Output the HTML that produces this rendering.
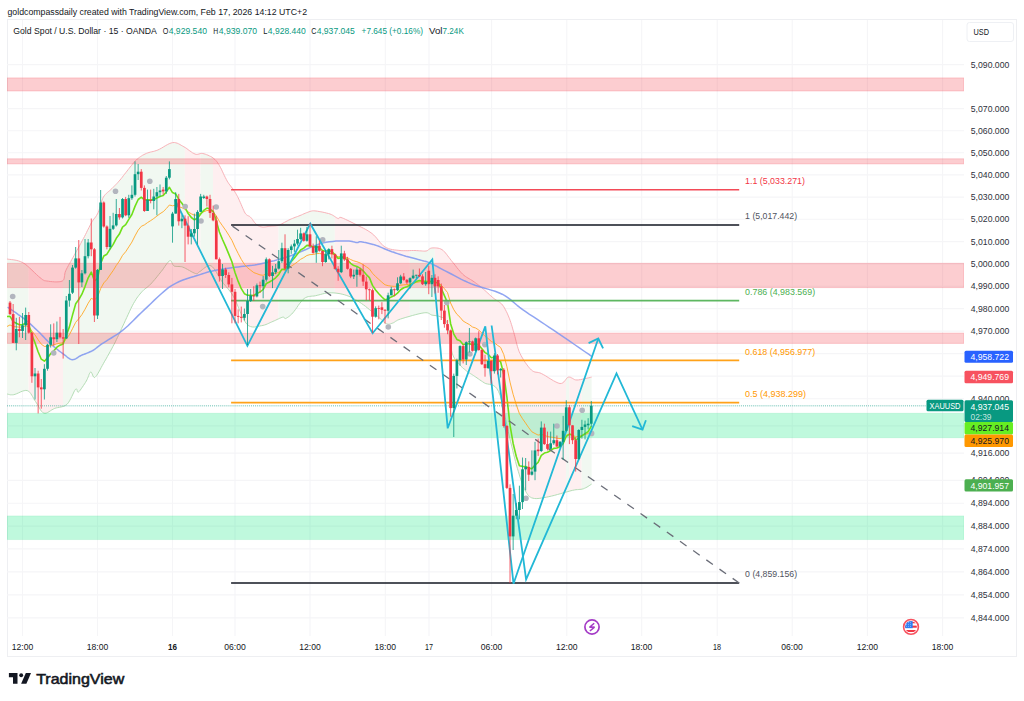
<!DOCTYPE html>
<html><head><meta charset="utf-8"><style>
html,body{margin:0;padding:0;background:#fff;width:1024px;height:701px;overflow:hidden}
svg{display:block}
</style></head><body>
<svg width="1024" height="701" viewBox="0 0 1024 701" font-family="Liberation Sans, sans-serif">
<rect width="1024" height="701" fill="#fff"/>
<text x="7.5" y="14.7" font-size="9.6" fill="#131722" text-anchor="start" font-weight="normal" textLength="299.5" lengthAdjust="spacingAndGlyphs">goldcompassdaily created with TradingView.com, Feb 17, 2026 14:12 UTC+2</text>
<rect x="7.5" y="19.5" width="1009" height="637" fill="#fff" stroke="#EEEFF2" stroke-width="1"/>
<svg x="7" y="20" width="957" height="616" viewBox="7 20 957 616" overflow="hidden">
<line x1="7" y1="64.6" x2="964" y2="64.6" stroke="#F5F5F7" stroke-width="1.1"/>
<line x1="7" y1="108.6" x2="964" y2="108.6" stroke="#F5F5F7" stroke-width="1.1"/>
<line x1="7" y1="130.7" x2="964" y2="130.7" stroke="#F5F5F7" stroke-width="1.1"/>
<line x1="7" y1="152.7" x2="964" y2="152.7" stroke="#F5F5F7" stroke-width="1.1"/>
<line x1="7" y1="174.9" x2="964" y2="174.9" stroke="#F5F5F7" stroke-width="1.1"/>
<line x1="7" y1="197.1" x2="964" y2="197.1" stroke="#F5F5F7" stroke-width="1.1"/>
<line x1="7" y1="219.3" x2="964" y2="219.3" stroke="#F5F5F7" stroke-width="1.1"/>
<line x1="7" y1="241.6" x2="964" y2="241.6" stroke="#F5F5F7" stroke-width="1.1"/>
<line x1="7" y1="263.9" x2="964" y2="263.9" stroke="#F5F5F7" stroke-width="1.1"/>
<line x1="7" y1="286.2" x2="964" y2="286.2" stroke="#F5F5F7" stroke-width="1.1"/>
<line x1="7" y1="308.6" x2="964" y2="308.6" stroke="#F5F5F7" stroke-width="1.1"/>
<line x1="7" y1="331.1" x2="964" y2="331.1" stroke="#F5F5F7" stroke-width="1.1"/>
<line x1="7" y1="353.6" x2="964" y2="353.6" stroke="#F5F5F7" stroke-width="1.1"/>
<line x1="7" y1="376.1" x2="964" y2="376.1" stroke="#F5F5F7" stroke-width="1.1"/>
<line x1="7" y1="398.7" x2="964" y2="398.7" stroke="#F5F5F7" stroke-width="1.1"/>
<line x1="7" y1="425.9" x2="964" y2="425.9" stroke="#F5F5F7" stroke-width="1.1"/>
<line x1="7" y1="453.1" x2="964" y2="453.1" stroke="#F5F5F7" stroke-width="1.1"/>
<line x1="7" y1="480.4" x2="964" y2="480.4" stroke="#F5F5F7" stroke-width="1.1"/>
<line x1="7" y1="503.2" x2="964" y2="503.2" stroke="#F5F5F7" stroke-width="1.1"/>
<line x1="7" y1="526.1" x2="964" y2="526.1" stroke="#F5F5F7" stroke-width="1.1"/>
<line x1="7" y1="548.9" x2="964" y2="548.9" stroke="#F5F5F7" stroke-width="1.1"/>
<line x1="7" y1="571.9" x2="964" y2="571.9" stroke="#F5F5F7" stroke-width="1.1"/>
<line x1="7" y1="594.9" x2="964" y2="594.9" stroke="#F5F5F7" stroke-width="1.1"/>
<line x1="7" y1="617.9" x2="964" y2="617.9" stroke="#F5F5F7" stroke-width="1.1"/>
<line x1="22.5" y1="20" x2="22.5" y2="636" stroke="#F5F5F7" stroke-width="1.1"/>
<line x1="97.5" y1="20" x2="97.5" y2="636" stroke="#F5F5F7" stroke-width="1.1"/>
<line x1="172.5" y1="20" x2="172.5" y2="636" stroke="#F5F5F7" stroke-width="1.1"/>
<line x1="235" y1="20" x2="235" y2="636" stroke="#F5F5F7" stroke-width="1.1"/>
<line x1="310" y1="20" x2="310" y2="636" stroke="#F5F5F7" stroke-width="1.1"/>
<line x1="385.3" y1="20" x2="385.3" y2="636" stroke="#F5F5F7" stroke-width="1.1"/>
<line x1="429" y1="20" x2="429" y2="636" stroke="#F5F5F7" stroke-width="1.1"/>
<line x1="491.6" y1="20" x2="491.6" y2="636" stroke="#F5F5F7" stroke-width="1.1"/>
<line x1="566.8" y1="20" x2="566.8" y2="636" stroke="#F5F5F7" stroke-width="1.1"/>
<line x1="641.7" y1="20" x2="641.7" y2="636" stroke="#F5F5F7" stroke-width="1.1"/>
<line x1="717.2" y1="20" x2="717.2" y2="636" stroke="#F5F5F7" stroke-width="1.1"/>
<line x1="792.2" y1="20" x2="792.2" y2="636" stroke="#F5F5F7" stroke-width="1.1"/>
<line x1="867.4" y1="20" x2="867.4" y2="636" stroke="#F5F5F7" stroke-width="1.1"/>
<line x1="942.6" y1="20" x2="942.6" y2="636" stroke="#F5F5F7" stroke-width="1.1"/>
<polygon points="7.0,259.0 8.2,259.2 9.8,259.4 11.7,259.6 13.9,259.9 16.2,260.3 18.5,260.9 20.7,261.7 22.9,262.7 25.1,264.1 27.3,265.9 28.6,267.0 28.6,391.3 28.6,391.2 27.3,390.6 25.8,390.4 24.1,390.7 22.3,391.2 20.4,392.0 18.5,392.9 16.7,393.7 15.1,394.3 13.7,394.7 12.5,394.8 11.4,394.8 10.4,394.8 9.5,394.6 8.7,394.4 8.0,394.2 7.5,394.1 7.0,394.0" fill="#F1F8F1"/>
<polygon points="28.6,267.0 29.7,268.0 32.0,270.2 34.3,272.4 36.4,274.4 38.3,276.2 40.0,277.6 41.3,278.6 42.2,279.3 42.9,279.9 43.5,280.2 44.1,280.5 44.7,280.7 45.6,280.8 46.8,281.0 48.4,281.2 50.3,281.5 52.5,281.7 54.8,281.9 57.0,281.9 59.1,281.8 60.9,281.5 62.3,281.0 63.0,280.5 63.0,406.5 62.6,406.6 61.0,407.0 59.4,407.3 57.8,407.6 56.2,407.9 54.7,408.4 53.3,409.1 51.8,409.9 50.4,410.8 49.0,411.7 47.6,412.5 46.3,413.1 45.0,413.3 43.8,413.1 42.6,412.4 41.5,411.3 40.5,409.9 39.5,408.3 38.5,406.5 37.5,404.7 36.5,403.0 35.5,401.5 34.5,400.0 33.6,398.4 32.7,396.7 31.7,395.1 30.8,393.6 29.7,392.3 28.6,391.3" fill="#FEEFF0"/>
<polygon points="63.0,280.5 63.3,280.2 63.9,279.3 64.2,278.2 64.4,276.9 64.6,275.5 64.8,274.0 65.1,272.4 65.7,270.8 66.5,269.1 67.4,267.4 68.4,265.5 69.5,263.6 70.7,261.6 71.8,259.5 73.0,257.4 74.2,255.3 75.4,253.1 76.7,250.7 78.1,248.3 79.5,245.8 80.8,243.3 82.1,240.9 83.4,238.6 84.5,236.5 85.5,234.5 86.5,232.6 87.3,230.8 88.2,229.1 89.0,227.5 89.8,225.9 90.6,224.3 91.4,222.8 92.3,221.4 93.1,220.1 94.0,218.9 94.9,217.8 95.8,216.6 96.6,215.4 97.4,214.0 98.2,212.5 98.9,210.8 99.5,208.8 100.1,206.8 100.7,204.7 101.3,202.6 101.9,200.6 102.6,198.7 103.4,197.1 104.3,195.7 105.3,194.5 106.4,193.4 107.5,192.4 108.6,191.5 109.7,190.6 110.8,189.6 111.9,188.6 112.9,187.6 113.9,186.5 114.9,185.5 115.9,184.5 116.9,183.5 117.9,182.4 118.9,181.2 120.0,180.0 121.1,178.7 122.3,177.2 123.4,175.7 124.6,174.2 125.8,172.6 127.0,171.1 128.1,169.7 129.2,168.3 130.2,167.0 131.3,165.7 132.2,164.5 133.2,163.3 134.2,162.2 135.1,161.1 136.2,160.1 137.2,159.1 138.3,158.2 139.4,157.4 140.5,156.6 141.6,155.9 142.7,155.2 143.9,154.6 145.1,154.0 146.4,153.4 147.7,152.9 149.0,152.5 150.4,152.1 151.7,151.8 153.2,151.5 154.6,151.1 156.2,150.6 157.8,150.0 159.5,149.2 161.4,148.2 163.3,147.0 165.3,145.8 167.3,144.7 169.2,143.7 171.1,143.0 172.8,142.6 174.4,142.5 175.8,142.8 177.2,143.2 178.6,143.8 179.9,144.5 181.2,145.3 182.5,146.0 183.9,146.8 184.8,147.3 184.8,268.1 184.2,267.7 182.7,267.1 181.4,266.7 180.2,266.6 179.0,266.5 177.9,266.5 176.8,266.5 175.8,266.4 174.9,266.3 174.1,266.0 173.4,265.4 172.8,264.6 172.4,263.6 171.9,262.6 171.5,261.7 171.1,261.0 170.5,260.6 169.8,260.7 169.0,261.3 168.0,262.2 167.0,263.4 166.0,264.9 164.8,266.5 163.7,268.2 162.5,269.9 161.3,271.4 160.1,272.9 158.7,274.6 157.4,276.3 156.0,278.0 154.6,279.7 153.2,281.3 151.9,282.8 150.6,284.2 149.4,285.4 148.3,286.3 147.2,287.2 146.2,288.0 145.1,288.8 144.1,289.6 143.1,290.6 142.0,291.7 140.9,292.9 139.9,294.1 138.9,295.3 137.9,296.7 136.8,298.1 135.8,299.7 134.7,301.5 133.5,303.5 132.3,305.8 130.9,308.5 129.6,311.3 128.2,314.4 126.8,317.4 125.4,320.4 124.1,323.3 122.8,326.0 121.6,328.5 120.6,330.8 119.5,333.1 118.5,335.3 117.5,337.4 116.4,339.6 115.4,341.8 114.2,344.1 112.9,346.5 111.6,349.0 110.2,351.5 108.8,354.0 107.4,356.5 106.1,358.9 104.7,361.2 103.5,363.4 102.3,365.5 101.1,367.7 100.0,369.9 98.8,371.9 97.8,373.7 96.8,375.3 95.8,376.5 95.0,377.3 94.3,377.5 93.6,377.0 93.1,376.1 92.6,375.0 92.1,373.8 91.7,372.8 91.2,372.1 90.7,372.0 90.2,372.4 89.7,373.2 89.2,374.2 88.7,375.5 88.2,376.9 87.6,378.3 87.0,379.7 86.3,381.0 85.5,382.4 84.5,383.9 83.4,385.6 82.3,387.2 81.2,388.8 80.2,390.2 79.3,391.3 78.5,392.0 77.9,392.2 77.6,391.9 77.3,391.2 77.1,390.3 76.9,389.5 76.6,389.0 76.2,388.8 75.6,389.2 74.8,390.3 73.9,392.0 73.0,394.0 71.9,396.3 70.7,398.7 69.5,400.9 68.3,402.8 67.0,404.3 65.6,405.3 64.2,406.1 63.0,406.5" fill="#F1F8F1"/>
<polygon points="184.8,147.3 185.3,147.6 186.8,148.6 188.2,149.7 189.7,150.8 191.2,151.8 192.5,152.8 193.9,153.5 195.1,154.1 196.2,154.4 197.2,154.4 198.1,154.2 199.0,154.0 199.9,153.7 200.5,153.6 200.5,271.1 200.0,271.4 199.2,271.9 198.6,272.4 198.2,272.8 197.9,273.2 197.5,273.5 197.1,273.7 196.4,273.7 195.5,273.5 194.3,273.1 192.8,272.4 191.1,271.5 189.4,270.5 187.6,269.5 185.8,268.5 184.8,268.1" fill="#FEEFF0"/>
<polygon points="200.5,153.6 200.8,153.5 201.7,153.4 202.8,153.5 204.0,153.8 205.3,154.2 206.6,154.7 208.0,155.2 209.4,155.9 210.7,156.5 212.0,157.2 213.0,157.9 213.0,267.4 212.4,266.8 211.0,265.8 209.6,265.5 208.1,265.8 206.6,266.5 205.1,267.5 203.6,268.6 202.3,269.7 201.1,270.7 200.5,271.1" fill="#F1F8F1"/>
<polygon points="213.0,157.9 213.1,158.0 214.1,158.8 214.9,159.5 215.7,160.3 216.5,161.2 217.2,162.1 217.9,163.2 218.7,164.3 219.5,165.7 220.4,167.3 221.4,169.2 222.3,171.2 223.3,173.3 224.3,175.5 225.3,177.5 226.3,179.4 227.2,181.1 228.1,182.5 228.9,183.8 229.8,184.9 230.6,186.0 231.4,187.0 232.2,188.0 233.0,189.0 233.7,190.1 234.4,191.2 235.0,192.2 235.7,193.3 236.3,194.3 236.9,195.4 237.5,196.5 238.1,197.7 238.8,199.1 239.5,200.7 240.3,202.5 241.2,204.5 242.0,206.5 242.8,208.4 243.7,210.3 244.4,211.9 245.2,213.2 245.9,214.2 246.6,214.8 247.2,215.3 247.8,215.6 248.5,215.9 249.1,216.2 249.7,216.5 250.4,217.1 251.1,217.8 251.8,218.7 252.5,219.6 253.2,220.6 253.9,221.6 254.6,222.5 255.3,223.3 256.0,224.0 256.7,224.6 257.4,225.1 258.1,225.6 258.9,226.0 259.6,226.3 260.3,226.6 261.2,226.8 262.0,227.0 262.9,227.1 263.8,227.1 264.8,227.0 265.8,226.9 266.8,226.7 267.9,226.5 268.9,226.3 270.0,226.2 271.1,226.1 272.1,226.0 273.2,226.0 274.3,225.9 275.4,225.8 276.6,225.6 277.8,225.4 278.6,225.1 278.6,318.8 278.4,318.9 277.0,319.5 275.7,320.2 274.3,320.8 272.9,321.4 271.6,322.0 270.2,322.6 268.8,323.3 267.4,323.9 266.0,324.5 264.5,325.0 263.0,325.4 261.4,325.7 259.7,326.0 258.0,326.4 256.2,326.8 254.3,327.0 252.5,327.0 250.6,326.6 248.8,325.8 247.0,324.3 245.2,322.0 243.5,318.9 241.7,315.2 240.0,311.2 238.3,307.1 236.6,303.1 235.0,299.4 233.4,296.4 231.9,293.9 230.4,291.8 228.9,289.9 227.5,288.2 226.1,286.6 224.8,285.1 223.4,283.4 222.0,281.6 220.6,279.5 219.2,277.2 217.8,274.8 216.5,272.4 215.1,270.2 213.7,268.3 213.0,267.4" fill="#FEEFF0"/>
<polygon points="278.6,225.1 279.0,225.0 280.3,224.5 281.6,223.9 283.0,223.2 284.4,222.4 285.9,221.6 287.3,220.9 288.7,220.1 290.0,219.5 291.3,218.9 292.6,218.4 293.8,217.9 295.1,217.4 296.3,216.9 297.5,216.5 298.8,216.0 300.0,215.5 301.3,215.0 302.6,214.4 303.9,213.8 305.2,213.3 306.5,212.7 307.8,212.3 308.9,211.8 310.0,211.5 310.9,211.2 311.6,211.0 312.2,210.9 312.8,210.8 313.3,210.8 314.0,210.8 314.9,210.9 316.0,211.0 317.4,211.2 319.1,211.5 320.9,211.8 322.9,212.2 324.8,212.6 326.7,213.1 328.5,213.5 330.0,214.0 331.3,214.5 332.5,215.1 333.7,215.8 334.7,216.5 334.8,216.6 334.8,293.0 333.9,292.9 331.9,292.8 330.0,292.8 328.1,292.9 326.2,293.1 324.3,293.5 322.5,293.9 320.7,294.4 318.9,294.9 317.2,295.3 315.6,295.7 314.0,296.0 312.5,296.1 311.1,296.2 309.7,296.4 308.3,296.6 307.0,297.0 305.6,297.6 304.2,298.5 302.7,299.8 301.3,301.5 299.7,303.4 298.2,305.5 296.8,307.6 295.4,309.6 294.0,311.4 292.8,312.9 291.7,314.1 290.6,315.1 289.6,316.0 288.7,316.7 287.8,317.3 287.0,317.8 286.3,318.2 285.6,318.5 285.1,318.6 284.8,318.5 284.5,318.2 284.4,317.9 284.2,317.5 283.9,317.2 283.5,317.1 282.8,317.1 281.9,317.4 280.9,317.8 279.7,318.3 278.6,318.8" fill="#F1F8F1"/>
<polygon points="334.8,216.6 335.6,217.1 336.5,217.7 337.3,218.2 338.0,218.5 338.5,218.6 338.8,218.5 339.0,218.2 339.1,217.9 339.3,217.6 339.6,217.4 340.1,217.3 341.0,217.5 342.2,217.9 343.7,218.5 345.3,219.3 347.1,220.1 349.0,221.0 351.0,222.0 353.0,223.0 355.0,224.0 357.0,225.0 359.1,226.1 361.3,227.2 363.6,228.3 365.8,229.5 368.0,230.8 370.0,232.1 372.0,233.5 373.8,235.1 375.5,236.8 377.1,238.7 378.6,240.6 380.2,242.5 381.7,244.2 383.3,245.8 385.0,247.0 386.8,247.9 388.6,248.7 390.5,249.2 392.4,249.6 394.3,249.9 396.2,250.1 398.1,250.3 400.0,250.5 401.9,250.7 403.8,250.7 405.8,250.7 407.8,250.7 409.7,250.6 409.8,250.6 409.8,316.2 409.0,316.5 405.8,317.4 402.9,318.3 400.6,319.0 398.9,319.6 397.5,320.2 396.5,320.8 395.6,321.3 394.9,321.8 394.3,322.3 393.6,322.7 392.8,323.0 392.0,323.3 391.2,323.6 390.5,323.9 389.8,324.1 389.0,324.2 388.3,324.2 387.4,324.0 386.5,323.7 385.5,323.2 384.5,322.5 383.5,321.6 382.4,320.6 381.2,319.5 380.0,318.4 378.6,317.2 377.1,315.9 375.4,314.5 373.6,313.0 371.7,311.4 369.6,309.7 367.5,308.0 365.4,306.3 363.4,304.8 361.4,303.4 359.5,302.1 357.6,300.9 355.7,299.8 353.8,298.7 352.0,297.7 350.1,296.8 348.1,296.0 346.2,295.3 344.2,294.7 342.2,294.2 340.1,293.7 338.0,293.4 336.0,293.1 334.8,293.0" fill="#FEEFF0"/>
<polygon points="409.8,250.6 411.5,250.5 413.3,250.5 415.0,250.5 416.6,250.6 418.2,250.7 419.6,250.8 421.1,250.9 422.4,251.0 423.7,251.1 424.9,251.1 426.0,251.0 426.9,250.8 427.7,250.4 428.4,249.9 428.9,249.4 429.5,248.9 430.2,248.5 430.9,248.2 431.8,248.0 432.9,247.9 434.1,247.9 434.8,247.9 434.8,315.5 434.0,315.4 433.0,315.3 432.0,315.1 431.1,314.8 430.4,314.4 429.8,313.9 429.1,313.5 428.3,313.1 427.3,312.8 425.9,312.7 424.2,312.8 421.9,313.2 419.0,313.8 415.8,314.6 412.4,315.5 409.8,316.2" fill="#F1F8F1"/>
<polygon points="434.8,247.9 435.4,247.9 436.7,248.0 438.1,248.2 439.5,248.5 440.8,249.0 442.1,249.7 443.3,250.6 444.4,251.7 445.5,253.0 446.6,254.3 447.7,255.8 448.9,257.4 450.1,258.9 451.3,260.5 452.6,262.1 454.0,263.9 455.5,265.7 456.9,267.6 458.4,269.4 459.9,271.2 461.3,272.8 462.7,274.2 464.0,275.4 465.4,276.4 466.7,277.3 468.0,278.1 469.3,278.8 470.5,279.5 471.8,280.3 473.0,281.1 474.2,281.9 475.3,282.7 476.4,283.5 477.5,284.3 478.6,285.2 479.7,286.0 480.9,287.0 482.1,288.0 483.4,289.1 484.8,290.4 486.3,291.7 487.8,293.1 489.3,294.5 490.8,295.8 492.2,297.1 493.5,298.2 494.8,299.2 496.0,300.0 497.2,300.7 498.3,301.4 499.4,302.2 500.5,303.0 501.6,303.9 502.6,305.1 503.6,306.5 504.5,308.0 505.4,309.7 506.3,311.4 507.2,313.2 508.0,315.1 508.8,317.0 509.5,318.8 510.2,320.6 510.8,322.5 511.4,324.3 512.0,326.2 512.5,328.1 513.1,330.1 513.7,332.2 514.3,334.3 514.9,336.5 515.5,338.9 516.1,341.3 516.7,343.8 517.4,346.3 518.2,348.8 519.0,351.2 520.0,353.5 521.2,355.8 522.5,358.1 523.9,360.5 525.4,362.7 527.0,364.9 528.5,366.9 530.0,368.6 531.4,370.0 532.7,371.0 533.8,371.6 534.9,372.0 536.0,372.2 537.1,372.3 538.3,372.5 539.7,372.8 541.4,373.5 543.4,374.6 545.7,375.9 548.2,377.5 550.8,379.1 553.4,380.7 555.9,382.0 558.1,383.0 560.0,383.5 561.5,383.4 562.8,382.8 563.9,381.9 564.9,380.7 565.8,379.5 566.1,379.1 566.1,492.0 564.0,492.6 560.8,493.6 557.5,494.5 554.3,495.4 551.4,496.1 548.7,496.7 546.3,497.2 544.0,497.6 541.9,498.0 539.9,498.3 538.0,498.5 536.2,498.6 534.5,498.5 533.0,498.2 531.6,497.8 530.5,497.2 529.5,496.6 528.6,495.8 527.8,494.8 527.0,493.6 526.1,492.1 525.2,490.4 524.2,488.4 523.3,486.1 522.3,483.6 521.3,480.9 520.3,478.0 519.4,474.9 518.4,471.7 517.4,468.4 516.4,465.0 515.5,461.5 514.6,457.9 513.6,454.2 512.7,450.2 511.7,446.1 510.6,441.7 509.5,437.0 508.3,431.7 507.0,425.7 505.7,419.3 504.4,412.8 503.0,406.4 501.6,400.5 500.1,395.4 498.5,391.4 496.8,388.5 495.1,386.6 493.2,385.4 491.3,384.7 489.4,384.3 487.6,384.0 485.8,383.6 484.2,382.8 482.7,381.8 481.2,380.8 479.7,379.8 478.4,378.9 477.0,377.9 475.8,377.1 474.6,376.3 473.5,375.5 472.5,374.9 471.6,374.3 470.8,373.9 470.1,373.4 469.4,373.0 468.7,372.6 467.9,372.0 467.1,371.4 466.2,370.7 465.2,369.9 464.3,369.1 463.2,368.3 462.2,367.3 461.2,366.4 460.3,365.3 459.3,364.2 458.4,363.1 457.4,362.1 456.5,361.0 455.5,359.9 454.6,358.6 453.7,357.0 452.9,355.1 452.1,352.8 451.4,349.8 450.7,346.1 450.1,341.9 449.5,337.6 449.0,333.3 448.4,329.2 447.7,325.7 447.0,323.0 446.2,321.1 445.4,319.7 444.6,318.7 443.7,318.1 442.8,317.7 441.9,317.4 440.9,317.1 440.0,316.7 439.0,316.3 438.1,316.0 437.1,315.8 436.1,315.7 435.0,315.5 434.8,315.5" fill="#FEEFF0"/>
<polygon points="566.1,379.1 566.6,378.4 567.5,377.6 568.5,377.1 569.2,377.1 569.2,491.2 567.1,491.8 566.1,492.0" fill="#F1F8F1"/>
<polygon points="569.2,377.1 569.5,377.1 570.5,377.3 571.4,377.8 572.4,378.3 573.4,378.9 574.4,379.5 575.6,379.9 577.0,380.0 578.6,379.9 580.6,379.6 581.7,379.4 581.7,489.2 581.0,489.3 579.9,489.4 578.8,489.5 577.5,489.6 576.0,489.7 574.3,490.0 572.3,490.4 569.9,491.0 569.2,491.2" fill="#FEEFF0"/>
<polygon points="581.7,379.4 582.7,379.2 584.8,378.7 586.9,378.2 588.8,377.8 590.4,377.4 591.6,377.1 591.6,484.1 591.0,484.5 590.2,485.0 589.2,485.7 588.1,486.4 587.0,487.1 585.8,487.7 584.5,488.3 583.3,488.8 582.1,489.1 581.7,489.2" fill="#F1F8F1"/>
<polyline points="7.0,259.0 8.2,259.2 9.8,259.4 11.7,259.6 13.9,259.9 16.2,260.3 18.5,260.9 20.7,261.7 22.9,262.7 25.1,264.1 27.3,265.9 29.7,268.0 32.0,270.2 34.3,272.4 36.4,274.4 38.3,276.2 40.0,277.6 41.3,278.6 42.2,279.3 42.9,279.9 43.5,280.2 44.1,280.5 44.7,280.7 45.6,280.8 46.8,281.0 48.4,281.2 50.3,281.5 52.5,281.7 54.8,281.9 57.0,281.9 59.1,281.8 60.9,281.5 62.3,281.0 63.3,280.2 63.9,279.3 64.2,278.2 64.4,276.9 64.6,275.5 64.8,274.0 65.1,272.4 65.7,270.8 66.5,269.1 67.4,267.4 68.4,265.5 69.5,263.6 70.7,261.6 71.8,259.5 73.0,257.4 74.2,255.3 75.4,253.1 76.7,250.7 78.1,248.3 79.5,245.8 80.8,243.3 82.1,240.9 83.4,238.6 84.5,236.5 85.5,234.5 86.5,232.6 87.3,230.8 88.2,229.1 89.0,227.5 89.8,225.9 90.6,224.3 91.4,222.8 92.3,221.4 93.1,220.1 94.0,218.9 94.9,217.8 95.8,216.6 96.6,215.4 97.4,214.0 98.2,212.5 98.9,210.8 99.5,208.8 100.1,206.8 100.7,204.7 101.3,202.6 101.9,200.6 102.6,198.7 103.4,197.1 104.3,195.7 105.3,194.5 106.4,193.4 107.5,192.4 108.6,191.5 109.7,190.6 110.8,189.6 111.9,188.6 112.9,187.6 113.9,186.5 114.9,185.5 115.9,184.5 116.9,183.5 117.9,182.4 118.9,181.2 120.0,180.0 121.1,178.7 122.3,177.2 123.4,175.7 124.6,174.2 125.8,172.6 127.0,171.1 128.1,169.7 129.2,168.3 130.2,167.0 131.3,165.7 132.2,164.5 133.2,163.3 134.2,162.2 135.1,161.1 136.2,160.1 137.2,159.1 138.3,158.2 139.4,157.4 140.5,156.6 141.6,155.9 142.7,155.2 143.9,154.6 145.1,154.0 146.4,153.4 147.7,152.9 149.0,152.5 150.4,152.1 151.7,151.8 153.2,151.5 154.6,151.1 156.2,150.6 157.8,150.0 159.5,149.2 161.4,148.2 163.3,147.0 165.3,145.8 167.3,144.7 169.2,143.7 171.1,143.0 172.8,142.6 174.4,142.5 175.8,142.8 177.2,143.2 178.6,143.8 179.9,144.5 181.2,145.3 182.5,146.0 183.9,146.8 185.3,147.6 186.8,148.6 188.2,149.7 189.7,150.8 191.2,151.8 192.5,152.8 193.9,153.5 195.1,154.1 196.2,154.4 197.2,154.4 198.1,154.2 199.0,154.0 199.9,153.7 200.8,153.5 201.7,153.4 202.8,153.5 204.0,153.8 205.3,154.2 206.6,154.7 208.0,155.2 209.4,155.9 210.7,156.5 212.0,157.2 213.1,158.0 214.1,158.8 214.9,159.5 215.7,160.3 216.5,161.2 217.2,162.1 217.9,163.2 218.7,164.3 219.5,165.7 220.4,167.3 221.4,169.2 222.3,171.2 223.3,173.3 224.3,175.5 225.3,177.5 226.3,179.4 227.2,181.1 228.1,182.5 228.9,183.8 229.8,184.9 230.6,186.0 231.4,187.0 232.2,188.0 233.0,189.0 233.7,190.1 234.4,191.2 235.0,192.2 235.7,193.3 236.3,194.3 236.9,195.4 237.5,196.5 238.1,197.7 238.8,199.1 239.5,200.7 240.3,202.5 241.2,204.5 242.0,206.5 242.8,208.4 243.7,210.3 244.4,211.9 245.2,213.2 245.9,214.2 246.6,214.8 247.2,215.3 247.8,215.6 248.5,215.9 249.1,216.2 249.7,216.5 250.4,217.1 251.1,217.8 251.8,218.7 252.5,219.6 253.2,220.6 253.9,221.6 254.6,222.5 255.3,223.3 256.0,224.0 256.7,224.6 257.4,225.1 258.1,225.6 258.9,226.0 259.6,226.3 260.3,226.6 261.2,226.8 262.0,227.0 262.9,227.1 263.8,227.1 264.8,227.0 265.8,226.9 266.8,226.7 267.9,226.5 268.9,226.3 270.0,226.2 271.1,226.1 272.1,226.0 273.2,226.0 274.3,225.9 275.4,225.8 276.6,225.6 277.8,225.4 279.0,225.0 280.3,224.5 281.6,223.9 283.0,223.2 284.4,222.4 285.9,221.6 287.3,220.9 288.7,220.1 290.0,219.5 291.3,218.9 292.6,218.4 293.8,217.9 295.1,217.4 296.3,216.9 297.5,216.5 298.8,216.0 300.0,215.5 301.3,215.0 302.6,214.4 303.9,213.8 305.2,213.3 306.5,212.7 307.8,212.3 308.9,211.8 310.0,211.5 310.9,211.2 311.6,211.0 312.2,210.9 312.8,210.8 313.3,210.8 314.0,210.8 314.9,210.9 316.0,211.0 317.4,211.2 319.1,211.5 320.9,211.8 322.9,212.2 324.8,212.6 326.7,213.1 328.5,213.5 330.0,214.0 331.3,214.5 332.5,215.1 333.7,215.8 334.7,216.5 335.6,217.1 336.5,217.7 337.3,218.2 338.0,218.5 338.5,218.6 338.8,218.5 339.0,218.2 339.1,217.9 339.3,217.6 339.6,217.4 340.1,217.3 341.0,217.5 342.2,217.9 343.7,218.5 345.3,219.3 347.1,220.1 349.0,221.0 351.0,222.0 353.0,223.0 355.0,224.0 357.0,225.0 359.1,226.1 361.3,227.2 363.6,228.3 365.8,229.5 368.0,230.8 370.0,232.1 372.0,233.5 373.8,235.1 375.5,236.8 377.1,238.7 378.6,240.6 380.2,242.5 381.7,244.2 383.3,245.8 385.0,247.0 386.8,247.9 388.6,248.7 390.5,249.2 392.4,249.6 394.3,249.9 396.2,250.1 398.1,250.3 400.0,250.5 401.9,250.7 403.8,250.7 405.8,250.7 407.8,250.7 409.7,250.6 411.5,250.5 413.3,250.5 415.0,250.5 416.6,250.6 418.2,250.7 419.6,250.8 421.1,250.9 422.4,251.0 423.7,251.1 424.9,251.1 426.0,251.0 426.9,250.8 427.7,250.4 428.4,249.9 428.9,249.4 429.5,248.9 430.2,248.5 430.9,248.2 431.8,248.0 432.9,247.9 434.1,247.9 435.4,247.9 436.7,248.0 438.1,248.2 439.5,248.5 440.8,249.0 442.1,249.7 443.3,250.6 444.4,251.7 445.5,253.0 446.6,254.3 447.7,255.8 448.9,257.4 450.1,258.9 451.3,260.5 452.6,262.1 454.0,263.9 455.5,265.7 456.9,267.6 458.4,269.4 459.9,271.2 461.3,272.8 462.7,274.2 464.0,275.4 465.4,276.4 466.7,277.3 468.0,278.1 469.3,278.8 470.5,279.5 471.8,280.3 473.0,281.1 474.2,281.9 475.3,282.7 476.4,283.5 477.5,284.3 478.6,285.2 479.7,286.0 480.9,287.0 482.1,288.0 483.4,289.1 484.8,290.4 486.3,291.7 487.8,293.1 489.3,294.5 490.8,295.8 492.2,297.1 493.5,298.2 494.8,299.2 496.0,300.0 497.2,300.7 498.3,301.4 499.4,302.2 500.5,303.0 501.6,303.9 502.6,305.1 503.6,306.5 504.5,308.0 505.4,309.7 506.3,311.4 507.2,313.2 508.0,315.1 508.8,317.0 509.5,318.8 510.2,320.6 510.8,322.5 511.4,324.3 512.0,326.2 512.5,328.1 513.1,330.1 513.7,332.2 514.3,334.3 514.9,336.5 515.5,338.9 516.1,341.3 516.7,343.8 517.4,346.3 518.2,348.8 519.0,351.2 520.0,353.5 521.2,355.8 522.5,358.1 523.9,360.5 525.4,362.7 527.0,364.9 528.5,366.9 530.0,368.6 531.4,370.0 532.7,371.0 533.8,371.6 534.9,372.0 536.0,372.2 537.1,372.3 538.3,372.5 539.7,372.8 541.4,373.5 543.4,374.6 545.7,375.9 548.2,377.5 550.8,379.1 553.4,380.7 555.9,382.0 558.1,383.0 560.0,383.5 561.5,383.4 562.8,382.8 563.9,381.9 564.9,380.7 565.8,379.5 566.6,378.4 567.5,377.6 568.5,377.1 569.5,377.1 570.5,377.3 571.4,377.8 572.4,378.3 573.4,378.9 574.4,379.5 575.6,379.9 577.0,380.0 578.6,379.9 580.6,379.6 582.7,379.2 584.8,378.7 586.9,378.2 588.8,377.8 590.4,377.4 591.6,377.1" fill="none" stroke="#F8B2B8" stroke-width="1"/>
<polyline points="7.0,394.0 7.5,394.1 8.0,394.2 8.7,394.4 9.5,394.6 10.4,394.8 11.4,394.8 12.5,394.8 13.7,394.7 15.1,394.3 16.7,393.7 18.5,392.9 20.4,392.0 22.3,391.2 24.1,390.7 25.8,390.4 27.3,390.6 28.6,391.2 29.7,392.3 30.8,393.6 31.7,395.1 32.7,396.7 33.6,398.4 34.5,400.0 35.5,401.5 36.5,403.0 37.5,404.7 38.5,406.5 39.5,408.3 40.5,409.9 41.5,411.3 42.6,412.4 43.8,413.1 45.0,413.3 46.3,413.1 47.6,412.5 49.0,411.7 50.4,410.8 51.8,409.9 53.3,409.1 54.7,408.4 56.2,407.9 57.8,407.6 59.4,407.3 61.0,407.0 62.6,406.6 64.2,406.1 65.6,405.3 67.0,404.3 68.3,402.8 69.5,400.9 70.7,398.7 71.9,396.3 73.0,394.0 73.9,392.0 74.8,390.3 75.6,389.2 76.2,388.8 76.6,389.0 76.9,389.5 77.1,390.3 77.3,391.2 77.6,391.9 77.9,392.2 78.5,392.0 79.3,391.3 80.2,390.2 81.2,388.8 82.3,387.2 83.4,385.6 84.5,383.9 85.5,382.4 86.3,381.0 87.0,379.7 87.6,378.3 88.2,376.9 88.7,375.5 89.2,374.2 89.7,373.2 90.2,372.4 90.7,372.0 91.2,372.1 91.7,372.8 92.1,373.8 92.6,375.0 93.1,376.1 93.6,377.0 94.3,377.5 95.0,377.3 95.8,376.5 96.8,375.3 97.8,373.7 98.8,371.9 100.0,369.9 101.1,367.7 102.3,365.5 103.5,363.4 104.7,361.2 106.1,358.9 107.4,356.5 108.8,354.0 110.2,351.5 111.6,349.0 112.9,346.5 114.2,344.1 115.4,341.8 116.4,339.6 117.5,337.4 118.5,335.3 119.5,333.1 120.6,330.8 121.6,328.5 122.8,326.0 124.1,323.3 125.4,320.4 126.8,317.4 128.2,314.4 129.6,311.3 130.9,308.5 132.3,305.8 133.5,303.5 134.7,301.5 135.8,299.7 136.8,298.1 137.9,296.7 138.9,295.3 139.9,294.1 140.9,292.9 142.0,291.7 143.1,290.6 144.1,289.6 145.1,288.8 146.2,288.0 147.2,287.2 148.3,286.3 149.4,285.4 150.6,284.2 151.9,282.8 153.2,281.3 154.6,279.7 156.0,278.0 157.4,276.3 158.7,274.6 160.1,272.9 161.3,271.4 162.5,269.9 163.7,268.2 164.8,266.5 166.0,264.9 167.0,263.4 168.0,262.2 169.0,261.3 169.8,260.7 170.5,260.6 171.1,261.0 171.5,261.7 171.9,262.6 172.4,263.6 172.8,264.6 173.4,265.4 174.1,266.0 174.9,266.3 175.8,266.4 176.8,266.5 177.9,266.5 179.0,266.5 180.2,266.6 181.4,266.7 182.7,267.1 184.2,267.7 185.8,268.5 187.6,269.5 189.4,270.5 191.1,271.5 192.8,272.4 194.3,273.1 195.5,273.5 196.4,273.7 197.1,273.7 197.5,273.5 197.9,273.2 198.2,272.8 198.6,272.4 199.2,271.9 200.0,271.4 201.1,270.7 202.3,269.7 203.6,268.6 205.1,267.5 206.6,266.5 208.1,265.8 209.6,265.5 211.0,265.8 212.4,266.8 213.7,268.3 215.1,270.2 216.5,272.4 217.8,274.8 219.2,277.2 220.6,279.5 222.0,281.6 223.4,283.4 224.8,285.1 226.1,286.6 227.5,288.2 228.9,289.9 230.4,291.8 231.9,293.9 233.4,296.4 235.0,299.4 236.6,303.1 238.3,307.1 240.0,311.2 241.7,315.2 243.5,318.9 245.2,322.0 247.0,324.3 248.8,325.8 250.6,326.6 252.5,327.0 254.3,327.0 256.2,326.8 258.0,326.4 259.7,326.0 261.4,325.7 263.0,325.4 264.5,325.0 266.0,324.5 267.4,323.9 268.8,323.3 270.2,322.6 271.6,322.0 272.9,321.4 274.3,320.8 275.7,320.2 277.0,319.5 278.4,318.9 279.7,318.3 280.9,317.8 281.9,317.4 282.8,317.1 283.5,317.1 283.9,317.2 284.2,317.5 284.4,317.9 284.5,318.2 284.8,318.5 285.1,318.6 285.6,318.5 286.3,318.2 287.0,317.8 287.8,317.3 288.7,316.7 289.6,316.0 290.6,315.1 291.7,314.1 292.8,312.9 294.0,311.4 295.4,309.6 296.8,307.6 298.2,305.5 299.7,303.4 301.3,301.5 302.7,299.8 304.2,298.5 305.6,297.6 307.0,297.0 308.3,296.6 309.7,296.4 311.1,296.2 312.5,296.1 314.0,296.0 315.6,295.7 317.2,295.3 318.9,294.9 320.7,294.4 322.5,293.9 324.3,293.5 326.2,293.1 328.1,292.9 330.0,292.8 331.9,292.8 333.9,292.9 336.0,293.1 338.0,293.4 340.1,293.7 342.2,294.2 344.2,294.7 346.2,295.3 348.1,296.0 350.1,296.8 352.0,297.7 353.8,298.7 355.7,299.8 357.6,300.9 359.5,302.1 361.4,303.4 363.4,304.8 365.4,306.3 367.5,308.0 369.6,309.7 371.7,311.4 373.6,313.0 375.4,314.5 377.1,315.9 378.6,317.2 380.0,318.4 381.2,319.5 382.4,320.6 383.5,321.6 384.5,322.5 385.5,323.2 386.5,323.7 387.4,324.0 388.3,324.2 389.0,324.2 389.8,324.1 390.5,323.9 391.2,323.6 392.0,323.3 392.8,323.0 393.6,322.7 394.3,322.3 394.9,321.8 395.6,321.3 396.5,320.8 397.5,320.2 398.9,319.6 400.6,319.0 402.9,318.3 405.8,317.4 409.0,316.5 412.4,315.5 415.8,314.6 419.0,313.8 421.9,313.2 424.2,312.8 425.9,312.7 427.3,312.8 428.3,313.1 429.1,313.5 429.8,313.9 430.4,314.4 431.1,314.8 432.0,315.1 433.0,315.3 434.0,315.4 435.0,315.5 436.1,315.7 437.1,315.8 438.1,316.0 439.0,316.3 440.0,316.7 440.9,317.1 441.9,317.4 442.8,317.7 443.7,318.1 444.6,318.7 445.4,319.7 446.2,321.1 447.0,323.0 447.7,325.7 448.4,329.2 449.0,333.3 449.5,337.6 450.1,341.9 450.7,346.1 451.4,349.8 452.1,352.8 452.9,355.1 453.7,357.0 454.6,358.6 455.5,359.9 456.5,361.0 457.4,362.1 458.4,363.1 459.3,364.2 460.3,365.3 461.2,366.4 462.2,367.3 463.2,368.3 464.3,369.1 465.2,369.9 466.2,370.7 467.1,371.4 467.9,372.0 468.7,372.6 469.4,373.0 470.1,373.4 470.8,373.9 471.6,374.3 472.5,374.9 473.5,375.5 474.6,376.3 475.8,377.1 477.0,377.9 478.4,378.9 479.7,379.8 481.2,380.8 482.7,381.8 484.2,382.8 485.8,383.6 487.6,384.0 489.4,384.3 491.3,384.7 493.2,385.4 495.1,386.6 496.8,388.5 498.5,391.4 500.1,395.4 501.6,400.5 503.0,406.4 504.4,412.8 505.7,419.3 507.0,425.7 508.3,431.7 509.5,437.0 510.6,441.7 511.7,446.1 512.7,450.2 513.6,454.2 514.6,457.9 515.5,461.5 516.4,465.0 517.4,468.4 518.4,471.7 519.4,474.9 520.3,478.0 521.3,480.9 522.3,483.6 523.3,486.1 524.2,488.4 525.2,490.4 526.1,492.1 527.0,493.6 527.8,494.8 528.6,495.8 529.5,496.6 530.5,497.2 531.6,497.8 533.0,498.2 534.5,498.5 536.2,498.6 538.0,498.5 539.9,498.3 541.9,498.0 544.0,497.6 546.3,497.2 548.7,496.7 551.4,496.1 554.3,495.4 557.5,494.5 560.8,493.6 564.0,492.6 567.1,491.8 569.9,491.0 572.3,490.4 574.3,490.0 576.0,489.7 577.5,489.6 578.8,489.5 579.9,489.4 581.0,489.3 582.1,489.1 583.3,488.8 584.5,488.3 585.8,487.7 587.0,487.1 588.1,486.4 589.2,485.7 590.2,485.0 591.0,484.5 591.6,484.1" fill="none" stroke="#B5DDB6" stroke-width="1"/>
<rect x="7" y="77.9" width="957" height="13.1" fill="rgba(242,54,69,0.25)" stroke="rgba(242,54,69,0.2)" stroke-width="1"/>
<rect x="7" y="158.8" width="957" height="5.1" fill="rgba(242,54,69,0.25)" stroke="rgba(242,54,69,0.2)" stroke-width="1"/>
<rect x="7" y="263.3" width="957" height="24.3" fill="rgba(242,54,69,0.25)" stroke="rgba(242,54,69,0.2)" stroke-width="1"/>
<rect x="7" y="333.1" width="957" height="10.3" fill="rgba(242,54,69,0.25)" stroke="rgba(242,54,69,0.2)" stroke-width="1"/>
<rect x="7" y="413.2" width="957" height="24.6" fill="rgba(0,230,118,0.25)" stroke="rgba(0,200,110,0.1)" stroke-width="1"/>
<rect x="7" y="515.9" width="957" height="23.7" fill="rgba(0,230,118,0.25)" stroke="rgba(0,200,110,0.1)" stroke-width="1"/>
<polyline points="7.6,307.1 9.0,308.1 10.9,309.4 13.2,311.0 15.7,312.7 18.3,314.6 20.9,316.4 23.3,318.2 25.4,319.8 27.2,321.3 28.9,322.7 30.5,324.1 32.1,325.6 33.6,327.0 35.0,328.4 36.5,329.8 38.1,331.3 39.7,332.8 41.3,334.5 42.9,336.1 44.5,337.7 46.0,339.4 47.6,341.0 49.2,342.5 50.8,344.0 52.4,345.4 54.1,346.8 55.7,348.2 57.4,349.5 59.0,350.8 60.6,352.0 62.1,353.1 63.5,354.1 64.8,355.1 66.0,356.0 67.1,357.0 68.2,357.8 69.2,358.5 70.3,359.1 71.3,359.5 72.4,359.7 73.5,359.6 74.6,359.3 75.6,358.8 76.7,358.2 77.8,357.5 78.9,356.7 80.1,356.0 81.3,355.4 82.6,354.8 84.1,354.3 85.5,353.7 87.1,353.1 88.6,352.5 90.1,351.8 91.5,351.2 92.8,350.5 93.9,349.8 94.9,349.2 95.7,348.5 96.5,347.9 97.4,347.1 98.4,346.3 99.7,345.3 101.4,344.1 103.5,342.8 105.9,341.3 108.5,339.7 111.3,338.0 114.2,336.2 117.2,334.3 120.0,332.3 122.8,330.2 125.4,328.0 128.0,325.7 130.5,323.2 133.1,320.7 135.7,318.1 138.4,315.4 141.2,312.7 144.2,309.9 147.4,306.9 150.7,303.7 154.1,300.4 157.7,297.0 161.3,293.7 164.9,290.6 168.5,287.7 172.0,285.3 175.6,283.3 179.3,281.5 183.0,280.0 186.7,278.7 190.4,277.5 193.9,276.5 197.1,275.5 200.0,274.6 202.5,273.8 204.6,273.1 206.4,272.5 208.1,272.0 209.7,271.6 211.5,271.2 213.4,270.8 215.8,270.3 218.6,269.8 221.6,269.3 224.9,268.8 228.3,268.3 231.7,267.8 235.1,267.3 238.3,266.9 241.2,266.5 243.8,266.2 246.1,265.9 248.2,265.7 250.3,265.5 252.4,265.3 254.7,265.0 257.2,264.6 260.0,264.0 263.2,263.3 266.7,262.5 270.3,261.6 274.2,260.7 278.1,259.6 282.1,258.5 286.1,257.3 290.0,256.0 294.0,254.5 298.1,252.9 302.3,251.0 306.5,249.2 310.6,247.4 314.7,245.7 318.6,244.2 322.3,243.1 325.9,242.3 329.4,241.7 332.8,241.4 336.0,241.1 339.1,241.0 342.0,241.0 344.7,241.0 347.0,241.0 349.0,241.0 350.7,241.2 352.1,241.4 353.3,241.7 354.3,241.9 355.3,242.2 356.1,242.4 357.0,242.5 357.7,242.5 358.2,242.4 358.5,242.2 358.8,242.0 359.0,241.9 359.4,241.8 360.1,241.7 361.0,241.8 362.3,242.0 363.8,242.3 365.5,242.6 367.3,243.0 369.2,243.4 371.2,243.9 373.1,244.4 375.0,245.0 376.8,245.6 378.7,246.3 380.6,247.1 382.4,247.9 384.3,248.7 386.2,249.5 388.1,250.3 390.0,251.0 391.9,251.7 393.8,252.3 395.6,253.0 397.5,253.6 399.4,254.2 401.2,254.8 403.1,255.4 405.0,256.0 406.9,256.6 408.9,257.1 410.8,257.6 412.8,258.1 414.7,258.6 416.6,259.1 418.4,259.6 420.0,260.0 421.5,260.4 422.7,260.7 423.9,261.0 425.0,261.2 426.1,261.5 427.2,261.9 428.5,262.4 430.0,263.0 431.6,263.7 433.3,264.6 435.0,265.5 436.9,266.4 438.8,267.5 440.9,268.6 443.2,269.8 445.7,271.1 448.4,272.5 451.3,274.0 454.4,275.7 457.6,277.4 460.9,279.1 464.4,280.8 467.9,282.4 471.4,283.9 475.1,285.3 479.0,286.5 483.0,287.7 487.1,288.9 491.2,290.1 495.1,291.3 498.8,292.7 502.2,294.2 505.2,295.8 507.8,297.6 510.2,299.4 512.5,301.3 514.7,303.2 517.1,305.3 519.7,307.4 522.7,309.6 526.0,311.9 529.5,314.3 533.2,316.7 537.0,319.2 541.0,321.8 545.0,324.5 549.2,327.3 553.5,330.2 558.2,333.4 563.4,336.9 568.9,340.7 574.5,344.5 579.8,348.2 584.6,351.5 588.6,354.2 591.6,356.3" fill="none" stroke="#7D95F0" stroke-opacity="0.85" stroke-width="1.5" stroke-linejoin="round"/>
<polyline points="7,326.5 10.0,324.9 13.2,326.6 16.3,326.8 19.4,327.2 22.5,327.0 25.6,325.9 28.8,326.5 31.9,331.0 35.0,334.9 38.1,339.7 41.3,344.2 44.4,346.4 47.5,346.3 50.6,345.5 53.8,344.9 56.9,343.8 60.0,343.2 63.1,342.8 66.3,338.9 69.4,334.8 72.5,328.7 75.7,322.3 78.8,318.7 81.9,314.6 85.0,309.3 88.2,303.2 91.3,298.3 94.4,299.9 97.5,297.1 100.7,288.5 103.8,282.9 106.9,279.6 110.0,275.0 113.2,270.5 116.3,265.4 119.4,261.0 122.5,255.4 125.7,251.7 128.8,246.9 131.9,242.1 135.0,235.9 138.2,230.1 141.3,226.3 144.4,224.9 147.5,222.6 150.7,220.6 153.8,218.5 156.9,216.1 160.0,213.7 163.2,211.7 166.3,208.6 169.4,205.0 172.5,205.8 175.7,205.2 178.8,206.7 181.9,207.7 185.0,209.4 188.2,211.9 191.3,213.8 194.4,215.2 197.5,214.9 200.7,213.2 203.8,211.7 206.9,210.5 210.0,210.8 213.2,211.6 216.3,216.0 219.4,221.4 222.5,225.8 225.7,230.3 228.8,235.2 231.9,240.3 235.0,247.2 238.2,253.5 241.3,259.4 244.4,264.3 247.5,267.7 250.7,270.2 253.8,272.6 256.9,273.7 260.0,274.9 263.1,275.3 266.3,273.9 269.4,274.1 272.5,273.9 275.6,273.4 278.8,272.3 281.9,270.1 285.0,270.0 288.1,268.2 291.3,266.2 294.4,264.1 297.5,261.8 300.6,259.3 303.8,257.6 306.9,255.5 310.0,254.6 313.1,254.5 316.3,253.7 319.4,253.4 322.5,254.2 325.6,254.2 328.8,253.7 331.9,253.8 335.0,255.1 338.1,256.7 341.3,256.4 344.4,256.7 347.5,257.8 350.6,259.5 353.8,260.9 356.9,261.7 360.0,262.9 363.1,264.6 366.3,266.8 369.4,268.9 372.5,273.3 375.6,276.5 378.8,279.4 381.9,282.2 385.0,284.8 388.1,285.7 391.3,286.1 394.4,286.4 397.5,286.1 400.6,285.3 403.8,284.8 406.9,284.6 410.0,284.0 413.1,283.2 416.3,282.5 419.4,281.9 422.5,282.1 425.6,282.1 428.8,282.3 431.9,281.9 435.0,282.3 438.1,282.7 441.3,285.2 444.4,288.7 447.5,292.5 450.6,303.0 453.8,309.7 456.9,314.3 460.0,317.2 463.1,321.0 466.3,322.9 469.4,324.6 472.5,327.0 475.6,328.0 478.8,330.0 481.9,333.1 485.0,336.3 488.1,338.5 491.3,341.5 494.4,342.8 497.5,345.3 500.6,347.4 503.8,354.6 506.9,366.7 510.0,382.1 513.1,394.3 516.3,404.8 519.4,413.6 522.5,418.7 525.6,423.1 528.8,427.8 531.9,431.8 535.0,433.5 538.1,435.1 541.3,434.4 544.4,435.3 547.5,436.5 550.6,437.1 553.8,437.4 556.9,438.2 560.0,438.6 563.1,437.8 566.3,435.1 569.4,434.2 572.5,434.7 575.6,436.9 578.8,436.3 581.9,435.4 585.0,434.5 588.1,433.5 591.3,431.0" fill="none" stroke="#FFA726" stroke-width="1" stroke-opacity="0.9" stroke-linejoin="round"/>
<polyline points="7,316.5 10.0,316.4 13.2,321.7 16.3,323.2 19.4,324.7 22.5,324.9 25.6,322.9 28.8,324.8 31.9,335.1 35.0,342.8 38.1,351.7 41.3,359.2 44.4,361.2 47.5,357.9 50.6,353.7 53.8,350.8 56.9,347.2 60.0,345.2 63.1,343.9 66.3,335.2 69.4,326.9 72.5,315.1 75.7,303.7 78.8,299.5 81.9,294.2 85.0,286.6 88.2,277.8 91.3,272.1 94.4,280.8 97.5,278.6 100.7,263.4 103.8,256.0 106.9,254.2 110.0,249.1 113.2,244.4 116.3,238.3 119.4,234.1 122.5,227.1 125.7,224.7 128.8,219.4 131.9,214.5 135.0,206.4 138.2,199.5 141.3,197.2 144.4,199.9 147.5,199.9 150.7,200.1 153.8,199.4 156.9,198.0 160.0,196.5 163.2,195.5 166.3,191.9 169.4,187.3 172.5,192.6 175.7,193.9 178.8,199.4 181.9,203.2 185.0,207.7 188.2,213.5 191.3,217.5 194.4,219.8 197.5,218.2 200.7,213.9 203.8,210.4 206.9,208.1 210.0,209.1 213.2,211.3 216.3,220.9 219.4,232.0 222.5,239.5 225.7,246.6 228.8,254.1 231.9,261.7 235.0,272.5 238.2,281.4 241.3,288.7 244.4,293.7 247.5,295.2 250.7,295.2 253.8,295.5 256.9,293.4 260.0,292.0 263.1,289.5 266.3,283.5 269.4,282.0 272.5,280.1 275.6,277.8 278.8,274.4 281.9,269.2 285.0,269.1 288.1,265.3 291.3,261.5 294.4,257.9 297.5,254.1 300.6,250.0 303.8,248.1 306.9,245.4 310.0,245.6 313.1,247.0 316.3,246.8 319.4,247.6 322.5,250.5 325.6,251.2 328.8,250.8 331.9,251.5 335.0,254.9 338.1,258.4 341.3,257.4 344.4,257.8 347.5,260.0 350.6,263.3 353.8,265.6 356.9,266.4 360.0,268.1 363.1,270.8 366.3,274.5 369.4,277.6 372.5,285.4 375.6,290.0 378.8,293.8 381.9,297.0 385.0,299.8 388.1,298.9 391.3,296.9 394.4,295.6 397.5,293.1 400.6,289.8 403.8,287.8 406.9,286.8 410.0,285.1 413.1,283.2 416.3,281.5 419.4,280.5 422.5,281.2 425.6,281.4 428.8,281.9 431.9,281.1 435.0,282.2 438.1,283.0 441.3,288.5 444.4,295.6 447.5,302.6 450.6,323.7 453.8,334.1 456.9,339.4 460.0,340.7 463.1,344.5 466.3,344.0 469.4,343.5 472.5,344.9 475.6,343.6 478.8,344.9 481.9,348.8 485.0,352.6 488.1,354.3 491.3,357.7 494.4,357.2 497.5,359.9 500.6,361.7 503.8,374.5 506.9,397.2 510.0,425.1 513.1,443.2 516.3,456.5 519.4,465.7 522.5,466.4 525.6,466.5 528.8,468.1 531.9,468.8 535.0,465.1 538.1,462.4 541.3,455.4 544.4,453.1 547.5,452.3 550.6,450.5 553.8,448.4 556.9,448.0 560.0,446.8 563.1,443.6 566.3,436.3 569.4,434.1 572.5,435.3 575.6,440.1 578.8,438.1 581.9,435.8 585.0,433.6 588.1,431.6 591.3,426.4" fill="none" stroke="#6FE01A" stroke-width="1.6" stroke-linejoin="round"/>
<line x1="7" y1="405.8" x2="926" y2="405.8" stroke="#089981" stroke-opacity="0.4" stroke-width="1.6" stroke-dasharray="1.05 1"/>
<circle cx="12.7" cy="296.5" r="2.8" fill="#B2B5BE"/>
<circle cx="53.7" cy="353" r="2.8" fill="#B2B5BE"/>
<circle cx="115.5" cy="191.2" r="2.8" fill="#B2B5BE"/>
<circle cx="149.8" cy="181.3" r="2.8" fill="#B2B5BE"/>
<circle cx="185.2" cy="206.5" r="2.8" fill="#B2B5BE"/>
<circle cx="201" cy="221" r="2.8" fill="#B2B5BE"/>
<circle cx="216.2" cy="207" r="2.8" fill="#B2B5BE"/>
<circle cx="262.7" cy="306.6" r="2.8" fill="#B2B5BE"/>
<circle cx="322.7" cy="239.8" r="2.8" fill="#B2B5BE"/>
<circle cx="388.3" cy="327" r="2.8" fill="#B2B5BE"/>
<circle cx="446.8" cy="302.6" r="2.8" fill="#B2B5BE"/>
<circle cx="469.9" cy="354" r="2.8" fill="#B2B5BE"/>
<circle cx="484.8" cy="344.6" r="2.8" fill="#B2B5BE"/>
<circle cx="526" cy="498.2" r="2.8" fill="#B2B5BE"/>
<circle cx="557" cy="426" r="2.8" fill="#B2B5BE"/>
<circle cx="582.2" cy="410.3" r="2.8" fill="#B2B5BE"/>
<circle cx="591.6" cy="433.4" r="2.8" fill="#B2B5BE"/>
<line x1="231.1" y1="189.8" x2="739.2" y2="189.8" stroke="#F23645" stroke-width="1.6" stroke-opacity="0.9"/>
<line x1="231.1" y1="225.0" x2="739.2" y2="225.0" stroke="#131722" stroke-width="1.6" stroke-opacity="1"/>
<line x1="231.1" y1="300.6" x2="739.2" y2="300.6" stroke="#4CAF50" stroke-width="1.6" stroke-opacity="0.9"/>
<line x1="231.1" y1="360.4" x2="739.2" y2="360.4" stroke="#FF9800" stroke-width="1.6" stroke-opacity="0.9"/>
<line x1="231.1" y1="402.6" x2="739.2" y2="402.6" stroke="#FF9800" stroke-width="1.6" stroke-opacity="0.9"/>
<line x1="231.1" y1="583.0" x2="739.2" y2="583.0" stroke="#131722" stroke-width="1.6" stroke-opacity="1"/>
<line x1="739.2" y1="583" x2="231.1" y2="225.2" stroke="#6A6D78" stroke-width="1.3" stroke-dasharray="8 8.1"/>
<polyline points="175,200 247.4,345.8 310.3,223.7 372.6,333.2 432.3,259.5 447.7,428.3 485.3,326.4 513.5,583.7 598.3,338.5" fill="none" stroke="#22B8D6" stroke-width="1.8" stroke-linejoin="miter"/>
<polyline points="588.6,343.1 598.3,338.5 603.1,348.3" fill="none" stroke="#22B8D6" stroke-width="1.8"/>
<polyline points="491.6,325.5 526.1,579.4 616.5,373.4 642.5,429.6" fill="none" stroke="#22B8D6" stroke-width="1.8" stroke-linejoin="miter"/>
<polyline points="632.2,426.2 642.5,429.6 645.9,420.2" fill="none" stroke="#22B8D6" stroke-width="1.8"/>
<line x1="10.03" y1="301.0" x2="10.03" y2="315.0" stroke="#F23645" stroke-width="0.8"/>
<rect x="8.68" y="302.6" width="2.7" height="11.5" fill="#F23645"/>
<line x1="13.15" y1="304.0" x2="13.15" y2="343.0" stroke="#F23645" stroke-width="0.8"/>
<rect x="11.80" y="314.1" width="2.7" height="28.8" fill="#F23645"/>
<line x1="16.27" y1="317.8" x2="16.27" y2="350.3" stroke="#089981" stroke-width="0.8"/>
<rect x="14.92" y="329.0" width="2.7" height="13.9" fill="#089981"/>
<line x1="19.40" y1="316.9" x2="19.40" y2="337.3" stroke="#F23645" stroke-width="0.8"/>
<rect x="18.05" y="329.0" width="2.7" height="2.0" fill="#F23645"/>
<line x1="22.52" y1="313.0" x2="22.52" y2="338.0" stroke="#089981" stroke-width="0.8"/>
<rect x="21.17" y="325.3" width="2.7" height="5.7" fill="#089981"/>
<line x1="25.65" y1="307.6" x2="25.65" y2="340.0" stroke="#089981" stroke-width="0.8"/>
<rect x="24.30" y="315.0" width="2.7" height="10.3" fill="#089981"/>
<line x1="28.77" y1="312.0" x2="28.77" y2="333.6" stroke="#F23645" stroke-width="0.8"/>
<rect x="27.42" y="315.0" width="2.7" height="17.7" fill="#F23645"/>
<line x1="31.90" y1="332.0" x2="31.90" y2="382.8" stroke="#F23645" stroke-width="0.8"/>
<rect x="30.55" y="332.7" width="2.7" height="43.6" fill="#F23645"/>
<line x1="35.02" y1="368.0" x2="35.02" y2="399.5" stroke="#089981" stroke-width="0.8"/>
<rect x="33.67" y="373.5" width="2.7" height="2.8" fill="#089981"/>
<line x1="38.15" y1="370.7" x2="38.15" y2="413.4" stroke="#F23645" stroke-width="0.8"/>
<rect x="36.80" y="373.5" width="2.7" height="13.9" fill="#F23645"/>
<line x1="41.27" y1="379.0" x2="41.27" y2="408.7" stroke="#F23645" stroke-width="0.8"/>
<rect x="39.92" y="387.4" width="2.7" height="1.9" fill="#F23645"/>
<line x1="44.40" y1="364.2" x2="44.40" y2="399.5" stroke="#089981" stroke-width="0.8"/>
<rect x="43.05" y="368.8" width="2.7" height="20.5" fill="#089981"/>
<line x1="47.52" y1="343.8" x2="47.52" y2="370.7" stroke="#089981" stroke-width="0.8"/>
<rect x="46.17" y="344.7" width="2.7" height="24.1" fill="#089981"/>
<line x1="50.65" y1="324.3" x2="50.65" y2="347.5" stroke="#089981" stroke-width="0.8"/>
<rect x="49.30" y="337.3" width="2.7" height="7.4" fill="#089981"/>
<line x1="53.77" y1="323.4" x2="53.77" y2="345.7" stroke="#F23645" stroke-width="0.8"/>
<rect x="52.42" y="337.3" width="2.7" height="1.9" fill="#F23645"/>
<line x1="56.90" y1="321.5" x2="56.90" y2="342.0" stroke="#089981" stroke-width="0.8"/>
<rect x="55.55" y="332.7" width="2.7" height="6.5" fill="#089981"/>
<line x1="60.02" y1="316.9" x2="60.02" y2="338.5" stroke="#F23645" stroke-width="0.8"/>
<rect x="58.67" y="332.7" width="2.7" height="4.6" fill="#F23645"/>
<line x1="63.15" y1="329.0" x2="63.15" y2="358.6" stroke="#F23645" stroke-width="0.8"/>
<rect x="61.80" y="337.3" width="2.7" height="1.3" fill="#F23645"/>
<line x1="66.28" y1="296.0" x2="66.28" y2="339.0" stroke="#089981" stroke-width="0.8"/>
<rect x="64.93" y="300.5" width="2.7" height="38.0" fill="#089981"/>
<line x1="69.40" y1="280.0" x2="69.40" y2="306.7" stroke="#089981" stroke-width="0.8"/>
<rect x="68.05" y="293.8" width="2.7" height="6.7" fill="#089981"/>
<line x1="72.53" y1="265.0" x2="72.53" y2="294.0" stroke="#089981" stroke-width="0.8"/>
<rect x="71.18" y="267.6" width="2.7" height="25.1" fill="#089981"/>
<line x1="75.65" y1="247.0" x2="75.65" y2="268.7" stroke="#089981" stroke-width="0.8"/>
<rect x="74.30" y="258.4" width="2.7" height="9.2" fill="#089981"/>
<line x1="78.78" y1="240.0" x2="78.78" y2="344.0" stroke="#F23645" stroke-width="0.8"/>
<rect x="77.43" y="258.4" width="2.7" height="24.0" fill="#F23645"/>
<line x1="81.90" y1="270.0" x2="81.90" y2="287.0" stroke="#089981" stroke-width="0.8"/>
<rect x="80.55" y="273.3" width="2.7" height="9.1" fill="#089981"/>
<line x1="85.03" y1="239.0" x2="85.03" y2="274.4" stroke="#089981" stroke-width="0.8"/>
<rect x="83.68" y="256.2" width="2.7" height="17.1" fill="#089981"/>
<line x1="88.15" y1="239.0" x2="88.15" y2="258.4" stroke="#089981" stroke-width="0.8"/>
<rect x="86.80" y="242.5" width="2.7" height="13.7" fill="#089981"/>
<line x1="91.28" y1="218.5" x2="91.28" y2="256.2" stroke="#F23645" stroke-width="0.8"/>
<rect x="89.93" y="242.5" width="2.7" height="6.8" fill="#F23645"/>
<line x1="94.40" y1="248.0" x2="94.40" y2="322.0" stroke="#F23645" stroke-width="0.8"/>
<rect x="93.05" y="249.3" width="2.7" height="66.2" fill="#F23645"/>
<line x1="97.53" y1="269.0" x2="97.53" y2="319.0" stroke="#089981" stroke-width="0.8"/>
<rect x="96.18" y="269.9" width="2.7" height="45.6" fill="#089981"/>
<line x1="100.65" y1="190.0" x2="100.65" y2="270.0" stroke="#089981" stroke-width="0.8"/>
<rect x="99.30" y="202.5" width="2.7" height="67.4" fill="#089981"/>
<line x1="103.78" y1="201.4" x2="103.78" y2="227.6" stroke="#F23645" stroke-width="0.8"/>
<rect x="102.43" y="202.5" width="2.7" height="24.0" fill="#F23645"/>
<line x1="106.90" y1="225.4" x2="106.90" y2="249.3" stroke="#F23645" stroke-width="0.8"/>
<rect x="105.55" y="226.5" width="2.7" height="20.5" fill="#F23645"/>
<line x1="110.03" y1="216.0" x2="110.03" y2="249.3" stroke="#089981" stroke-width="0.8"/>
<rect x="108.68" y="228.8" width="2.7" height="18.2" fill="#089981"/>
<line x1="113.15" y1="212.8" x2="113.15" y2="230.0" stroke="#089981" stroke-width="0.8"/>
<rect x="111.80" y="225.4" width="2.7" height="3.4" fill="#089981"/>
<line x1="116.28" y1="199.0" x2="116.28" y2="226.5" stroke="#089981" stroke-width="0.8"/>
<rect x="114.93" y="214.0" width="2.7" height="11.4" fill="#089981"/>
<line x1="119.40" y1="208.0" x2="119.40" y2="219.7" stroke="#F23645" stroke-width="0.8"/>
<rect x="118.05" y="214.0" width="2.7" height="3.4" fill="#F23645"/>
<line x1="122.53" y1="198.0" x2="122.53" y2="218.5" stroke="#089981" stroke-width="0.8"/>
<rect x="121.18" y="199.0" width="2.7" height="18.4" fill="#089981"/>
<line x1="125.65" y1="196.9" x2="125.65" y2="216.2" stroke="#F23645" stroke-width="0.8"/>
<rect x="124.30" y="199.0" width="2.7" height="16.3" fill="#F23645"/>
<line x1="128.78" y1="194.8" x2="128.78" y2="217.9" stroke="#089981" stroke-width="0.8"/>
<rect x="127.43" y="198.2" width="2.7" height="17.1" fill="#089981"/>
<line x1="131.90" y1="185.4" x2="131.90" y2="199.9" stroke="#089981" stroke-width="0.8"/>
<rect x="130.55" y="194.8" width="2.7" height="3.4" fill="#089981"/>
<line x1="135.03" y1="161.4" x2="135.03" y2="196.5" stroke="#089981" stroke-width="0.8"/>
<rect x="133.68" y="174.2" width="2.7" height="20.6" fill="#089981"/>
<line x1="138.15" y1="164.0" x2="138.15" y2="180.0" stroke="#089981" stroke-width="0.8"/>
<rect x="136.80" y="171.7" width="2.7" height="2.5" fill="#089981"/>
<line x1="141.28" y1="169.1" x2="141.28" y2="190.5" stroke="#F23645" stroke-width="0.8"/>
<rect x="139.93" y="171.7" width="2.7" height="16.2" fill="#F23645"/>
<line x1="144.40" y1="185.4" x2="144.40" y2="211.9" stroke="#F23645" stroke-width="0.8"/>
<rect x="143.05" y="187.9" width="2.7" height="23.1" fill="#F23645"/>
<line x1="147.53" y1="189.6" x2="147.53" y2="211.0" stroke="#089981" stroke-width="0.8"/>
<rect x="146.18" y="199.9" width="2.7" height="11.1" fill="#089981"/>
<line x1="150.65" y1="189.6" x2="150.65" y2="203.3" stroke="#F23645" stroke-width="0.8"/>
<rect x="149.30" y="199.9" width="2.7" height="1.1" fill="#F23645"/>
<line x1="153.78" y1="188.8" x2="153.78" y2="209.3" stroke="#089981" stroke-width="0.8"/>
<rect x="152.43" y="196.5" width="2.7" height="4.5" fill="#089981"/>
<line x1="156.90" y1="187.0" x2="156.90" y2="215.3" stroke="#089981" stroke-width="0.8"/>
<rect x="155.55" y="192.2" width="2.7" height="4.3" fill="#089981"/>
<line x1="160.03" y1="184.5" x2="160.03" y2="196.5" stroke="#089981" stroke-width="0.8"/>
<rect x="158.68" y="190.5" width="2.7" height="1.7" fill="#089981"/>
<line x1="163.15" y1="187.0" x2="163.15" y2="194.8" stroke="#F23645" stroke-width="0.8"/>
<rect x="161.80" y="189.6" width="2.7" height="1.8" fill="#F23645"/>
<line x1="166.28" y1="176.0" x2="166.28" y2="193.9" stroke="#089981" stroke-width="0.8"/>
<rect x="164.93" y="177.7" width="2.7" height="13.7" fill="#089981"/>
<line x1="169.40" y1="161.4" x2="169.40" y2="179.4" stroke="#089981" stroke-width="0.8"/>
<rect x="168.05" y="169.1" width="2.7" height="8.6" fill="#089981"/>
<line x1="172.53" y1="211.9" x2="172.53" y2="242.7" stroke="#089981" stroke-width="0.8"/>
<rect x="171.18" y="213.6" width="2.7" height="12.8" fill="#089981"/>
<line x1="175.65" y1="192.2" x2="175.65" y2="213.6" stroke="#089981" stroke-width="0.8"/>
<rect x="174.30" y="199.0" width="2.7" height="14.6" fill="#089981"/>
<line x1="178.78" y1="193.9" x2="178.78" y2="225.6" stroke="#F23645" stroke-width="0.8"/>
<rect x="177.43" y="199.0" width="2.7" height="22.3" fill="#F23645"/>
<line x1="181.90" y1="215.3" x2="181.90" y2="228.2" stroke="#089981" stroke-width="0.8"/>
<rect x="180.55" y="218.7" width="2.7" height="2.6" fill="#089981"/>
<line x1="185.03" y1="215.3" x2="185.03" y2="262.0" stroke="#F23645" stroke-width="0.8"/>
<rect x="183.68" y="218.7" width="2.7" height="6.9" fill="#F23645"/>
<line x1="188.15" y1="216.2" x2="188.15" y2="244.4" stroke="#F23645" stroke-width="0.8"/>
<rect x="186.80" y="225.6" width="2.7" height="11.1" fill="#F23645"/>
<line x1="191.28" y1="229.0" x2="191.28" y2="244.4" stroke="#089981" stroke-width="0.8"/>
<rect x="189.93" y="233.3" width="2.7" height="3.4" fill="#089981"/>
<line x1="194.40" y1="213.6" x2="194.40" y2="236.7" stroke="#089981" stroke-width="0.8"/>
<rect x="193.05" y="229.0" width="2.7" height="4.3" fill="#089981"/>
<line x1="197.53" y1="210.2" x2="197.53" y2="244.4" stroke="#089981" stroke-width="0.8"/>
<rect x="196.18" y="211.9" width="2.7" height="17.1" fill="#089981"/>
<line x1="200.65" y1="193.9" x2="200.65" y2="211.9" stroke="#089981" stroke-width="0.8"/>
<rect x="199.30" y="196.5" width="2.7" height="15.4" fill="#089981"/>
<line x1="203.78" y1="194.8" x2="203.78" y2="199.0" stroke="#089981" stroke-width="0.8"/>
<rect x="202.43" y="196.5" width="2.7" height="1.5" fill="#089981"/>
<line x1="206.90" y1="195.6" x2="206.90" y2="206.5" stroke="#F23645" stroke-width="0.8"/>
<rect x="205.55" y="196.5" width="2.7" height="2.5" fill="#F23645"/>
<line x1="210.03" y1="194.8" x2="210.03" y2="217.9" stroke="#F23645" stroke-width="0.8"/>
<rect x="208.68" y="199.0" width="2.7" height="14.0" fill="#F23645"/>
<line x1="213.15" y1="205.6" x2="213.15" y2="221.3" stroke="#F23645" stroke-width="0.8"/>
<rect x="211.80" y="213.0" width="2.7" height="7.4" fill="#F23645"/>
<line x1="216.28" y1="215.8" x2="216.28" y2="259.3" stroke="#F23645" stroke-width="0.8"/>
<rect x="214.93" y="220.4" width="2.7" height="38.9" fill="#F23645"/>
<line x1="219.40" y1="257.5" x2="219.40" y2="281.6" stroke="#F23645" stroke-width="0.8"/>
<rect x="218.05" y="259.3" width="2.7" height="16.7" fill="#F23645"/>
<line x1="222.53" y1="264.0" x2="222.53" y2="289.0" stroke="#089981" stroke-width="0.8"/>
<rect x="221.18" y="269.5" width="2.7" height="6.5" fill="#089981"/>
<line x1="225.65" y1="267.7" x2="225.65" y2="277.9" stroke="#F23645" stroke-width="0.8"/>
<rect x="224.30" y="269.5" width="2.7" height="5.5" fill="#F23645"/>
<line x1="228.78" y1="272.3" x2="228.78" y2="287.2" stroke="#F23645" stroke-width="0.8"/>
<rect x="227.43" y="275.0" width="2.7" height="9.4" fill="#F23645"/>
<line x1="231.90" y1="277.9" x2="231.90" y2="323.3" stroke="#F23645" stroke-width="0.8"/>
<rect x="230.55" y="284.4" width="2.7" height="7.4" fill="#F23645"/>
<line x1="235.03" y1="289.0" x2="235.03" y2="323.3" stroke="#F23645" stroke-width="0.8"/>
<rect x="233.68" y="291.8" width="2.7" height="24.1" fill="#F23645"/>
<line x1="238.15" y1="309.4" x2="238.15" y2="323.3" stroke="#F23645" stroke-width="0.8"/>
<rect x="236.80" y="315.9" width="2.7" height="0.9" fill="#F23645"/>
<line x1="241.28" y1="306.6" x2="241.28" y2="322.4" stroke="#F23645" stroke-width="0.8"/>
<rect x="239.93" y="316.8" width="2.7" height="1.0" fill="#F23645"/>
<line x1="244.40" y1="308.5" x2="244.40" y2="320.5" stroke="#089981" stroke-width="0.8"/>
<rect x="243.05" y="314.0" width="2.7" height="3.8" fill="#089981"/>
<line x1="247.53" y1="289.0" x2="247.53" y2="345.0" stroke="#089981" stroke-width="0.8"/>
<rect x="246.18" y="301.0" width="2.7" height="13.0" fill="#089981"/>
<line x1="250.65" y1="289.0" x2="250.65" y2="302.0" stroke="#089981" stroke-width="0.8"/>
<rect x="249.30" y="295.5" width="2.7" height="5.5" fill="#089981"/>
<line x1="253.78" y1="286.2" x2="253.78" y2="301.0" stroke="#F23645" stroke-width="0.8"/>
<rect x="252.43" y="295.5" width="2.7" height="0.9" fill="#F23645"/>
<line x1="256.90" y1="283.5" x2="256.90" y2="297.4" stroke="#089981" stroke-width="0.8"/>
<rect x="255.55" y="285.3" width="2.7" height="11.1" fill="#089981"/>
<line x1="260.02" y1="281.6" x2="260.02" y2="292.7" stroke="#F23645" stroke-width="0.8"/>
<rect x="258.67" y="285.3" width="2.7" height="0.9" fill="#F23645"/>
<line x1="263.15" y1="276.0" x2="263.15" y2="298.3" stroke="#089981" stroke-width="0.8"/>
<rect x="261.80" y="279.7" width="2.7" height="6.5" fill="#089981"/>
<line x1="266.27" y1="257.5" x2="266.27" y2="281.6" stroke="#089981" stroke-width="0.8"/>
<rect x="264.92" y="259.3" width="2.7" height="20.4" fill="#089981"/>
<line x1="269.40" y1="258.4" x2="269.40" y2="277.0" stroke="#F23645" stroke-width="0.8"/>
<rect x="268.05" y="259.3" width="2.7" height="16.7" fill="#F23645"/>
<line x1="272.52" y1="265.8" x2="272.52" y2="288.1" stroke="#089981" stroke-width="0.8"/>
<rect x="271.17" y="272.3" width="2.7" height="3.7" fill="#089981"/>
<line x1="275.65" y1="264.0" x2="275.65" y2="274.2" stroke="#089981" stroke-width="0.8"/>
<rect x="274.30" y="268.6" width="2.7" height="3.7" fill="#089981"/>
<line x1="278.77" y1="250.0" x2="278.77" y2="269.5" stroke="#089981" stroke-width="0.8"/>
<rect x="277.42" y="261.2" width="2.7" height="7.4" fill="#089981"/>
<line x1="281.90" y1="242.7" x2="281.90" y2="263.0" stroke="#089981" stroke-width="0.8"/>
<rect x="280.55" y="248.2" width="2.7" height="13.0" fill="#089981"/>
<line x1="285.02" y1="234.3" x2="285.02" y2="270.5" stroke="#F23645" stroke-width="0.8"/>
<rect x="283.67" y="248.2" width="2.7" height="20.4" fill="#F23645"/>
<line x1="288.15" y1="248.2" x2="288.15" y2="273.3" stroke="#089981" stroke-width="0.8"/>
<rect x="286.80" y="250.0" width="2.7" height="18.6" fill="#089981"/>
<line x1="291.27" y1="244.5" x2="291.27" y2="253.8" stroke="#089981" stroke-width="0.8"/>
<rect x="289.92" y="246.4" width="2.7" height="3.6" fill="#089981"/>
<line x1="294.40" y1="239.9" x2="294.40" y2="251.9" stroke="#089981" stroke-width="0.8"/>
<rect x="293.05" y="243.6" width="2.7" height="2.8" fill="#089981"/>
<line x1="297.52" y1="229.7" x2="297.52" y2="245.4" stroke="#089981" stroke-width="0.8"/>
<rect x="296.17" y="239.0" width="2.7" height="4.6" fill="#089981"/>
<line x1="300.65" y1="227.8" x2="300.65" y2="239.9" stroke="#089981" stroke-width="0.8"/>
<rect x="299.30" y="233.4" width="2.7" height="5.6" fill="#089981"/>
<line x1="303.77" y1="232.5" x2="303.77" y2="241.7" stroke="#F23645" stroke-width="0.8"/>
<rect x="302.42" y="233.4" width="2.7" height="7.4" fill="#F23645"/>
<line x1="306.90" y1="226.9" x2="306.90" y2="241.7" stroke="#089981" stroke-width="0.8"/>
<rect x="305.55" y="234.3" width="2.7" height="6.5" fill="#089981"/>
<line x1="310.02" y1="223.2" x2="310.02" y2="247.3" stroke="#F23645" stroke-width="0.8"/>
<rect x="308.67" y="234.3" width="2.7" height="12.1" fill="#F23645"/>
<line x1="313.15" y1="243.6" x2="313.15" y2="253.8" stroke="#F23645" stroke-width="0.8"/>
<rect x="311.80" y="246.4" width="2.7" height="6.5" fill="#F23645"/>
<line x1="316.27" y1="236.3" x2="316.27" y2="262.8" stroke="#089981" stroke-width="0.8"/>
<rect x="314.92" y="245.7" width="2.7" height="6.8" fill="#089981"/>
<line x1="319.40" y1="240.5" x2="319.40" y2="251.7" stroke="#F23645" stroke-width="0.8"/>
<rect x="318.05" y="245.7" width="2.7" height="5.1" fill="#F23645"/>
<line x1="322.52" y1="250.8" x2="322.52" y2="266.2" stroke="#F23645" stroke-width="0.8"/>
<rect x="321.17" y="250.8" width="2.7" height="11.2" fill="#F23645"/>
<line x1="325.65" y1="250.0" x2="325.65" y2="262.8" stroke="#089981" stroke-width="0.8"/>
<rect x="324.30" y="254.2" width="2.7" height="7.8" fill="#089981"/>
<line x1="328.77" y1="248.2" x2="328.77" y2="259.4" stroke="#089981" stroke-width="0.8"/>
<rect x="327.42" y="249.1" width="2.7" height="5.1" fill="#089981"/>
<line x1="331.90" y1="245.7" x2="331.90" y2="258.5" stroke="#F23645" stroke-width="0.8"/>
<rect x="330.55" y="249.1" width="2.7" height="5.1" fill="#F23645"/>
<line x1="335.02" y1="253.4" x2="335.02" y2="269.6" stroke="#F23645" stroke-width="0.8"/>
<rect x="333.67" y="254.2" width="2.7" height="14.6" fill="#F23645"/>
<line x1="338.15" y1="266.2" x2="338.15" y2="280.8" stroke="#F23645" stroke-width="0.8"/>
<rect x="336.80" y="268.8" width="2.7" height="3.4" fill="#F23645"/>
<line x1="341.27" y1="245.7" x2="341.27" y2="273.1" stroke="#089981" stroke-width="0.8"/>
<rect x="339.92" y="253.4" width="2.7" height="18.8" fill="#089981"/>
<line x1="344.40" y1="250.8" x2="344.40" y2="261.1" stroke="#F23645" stroke-width="0.8"/>
<rect x="343.05" y="253.4" width="2.7" height="6.0" fill="#F23645"/>
<line x1="347.52" y1="256.8" x2="347.52" y2="269.6" stroke="#F23645" stroke-width="0.8"/>
<rect x="346.17" y="259.4" width="2.7" height="9.4" fill="#F23645"/>
<line x1="350.65" y1="268.0" x2="350.65" y2="278.2" stroke="#F23645" stroke-width="0.8"/>
<rect x="349.30" y="268.8" width="2.7" height="7.7" fill="#F23645"/>
<line x1="353.77" y1="269.6" x2="353.77" y2="279.0" stroke="#089981" stroke-width="0.8"/>
<rect x="352.42" y="274.8" width="2.7" height="1.7" fill="#089981"/>
<line x1="356.90" y1="267.1" x2="356.90" y2="286.8" stroke="#089981" stroke-width="0.8"/>
<rect x="355.55" y="269.6" width="2.7" height="5.2" fill="#089981"/>
<line x1="360.02" y1="268.0" x2="360.02" y2="276.5" stroke="#F23645" stroke-width="0.8"/>
<rect x="358.67" y="269.6" width="2.7" height="5.2" fill="#F23645"/>
<line x1="363.15" y1="264.5" x2="363.15" y2="285.9" stroke="#F23645" stroke-width="0.8"/>
<rect x="361.80" y="274.8" width="2.7" height="6.8" fill="#F23645"/>
<line x1="366.27" y1="276.5" x2="366.27" y2="300.5" stroke="#F23645" stroke-width="0.8"/>
<rect x="364.92" y="281.6" width="2.7" height="7.7" fill="#F23645"/>
<line x1="369.40" y1="288.5" x2="369.40" y2="300.5" stroke="#F23645" stroke-width="0.8"/>
<rect x="368.05" y="289.3" width="2.7" height="0.9" fill="#F23645"/>
<line x1="372.52" y1="288.5" x2="372.52" y2="333.0" stroke="#F23645" stroke-width="0.8"/>
<rect x="371.17" y="290.2" width="2.7" height="26.5" fill="#F23645"/>
<line x1="375.65" y1="306.4" x2="375.65" y2="317.6" stroke="#089981" stroke-width="0.8"/>
<rect x="374.30" y="308.2" width="2.7" height="8.5" fill="#089981"/>
<line x1="378.77" y1="305.6" x2="378.77" y2="319.3" stroke="#F23645" stroke-width="0.8"/>
<rect x="377.42" y="308.2" width="2.7" height="0.8" fill="#F23645"/>
<line x1="381.90" y1="302.2" x2="381.90" y2="314.1" stroke="#F23645" stroke-width="0.8"/>
<rect x="380.55" y="307.3" width="2.7" height="2.6" fill="#F23645"/>
<line x1="385.02" y1="309.0" x2="385.02" y2="323.6" stroke="#F23645" stroke-width="0.8"/>
<rect x="383.67" y="309.9" width="2.7" height="0.8" fill="#F23645"/>
<line x1="388.15" y1="292.7" x2="388.15" y2="318.4" stroke="#089981" stroke-width="0.8"/>
<rect x="386.80" y="295.3" width="2.7" height="15.4" fill="#089981"/>
<line x1="391.27" y1="286.8" x2="391.27" y2="295.3" stroke="#089981" stroke-width="0.8"/>
<rect x="389.92" y="289.3" width="2.7" height="6.0" fill="#089981"/>
<line x1="394.40" y1="288.5" x2="394.40" y2="296.2" stroke="#F23645" stroke-width="0.8"/>
<rect x="393.05" y="289.3" width="2.7" height="0.9" fill="#F23645"/>
<line x1="397.52" y1="277.3" x2="397.52" y2="291.0" stroke="#089981" stroke-width="0.8"/>
<rect x="396.17" y="283.3" width="2.7" height="6.9" fill="#089981"/>
<line x1="400.65" y1="274.8" x2="400.65" y2="284.2" stroke="#089981" stroke-width="0.8"/>
<rect x="399.30" y="276.5" width="2.7" height="6.8" fill="#089981"/>
<line x1="403.77" y1="273.1" x2="403.77" y2="280.8" stroke="#F23645" stroke-width="0.8"/>
<rect x="402.42" y="276.5" width="2.7" height="3.4" fill="#F23645"/>
<line x1="406.90" y1="279.0" x2="406.90" y2="284.2" stroke="#F23645" stroke-width="0.8"/>
<rect x="405.55" y="279.9" width="2.7" height="2.6" fill="#F23645"/>
<line x1="410.02" y1="277.3" x2="410.02" y2="288.5" stroke="#089981" stroke-width="0.8"/>
<rect x="408.67" y="278.2" width="2.7" height="4.3" fill="#089981"/>
<line x1="413.15" y1="269.6" x2="413.15" y2="279.0" stroke="#089981" stroke-width="0.8"/>
<rect x="411.80" y="275.6" width="2.7" height="2.6" fill="#089981"/>
<line x1="416.27" y1="274.8" x2="416.27" y2="278.2" stroke="#089981" stroke-width="0.8"/>
<rect x="414.92" y="274.8" width="2.7" height="0.8" fill="#089981"/>
<line x1="419.40" y1="268.5" x2="419.40" y2="277.1" stroke="#F23645" stroke-width="0.8"/>
<rect x="418.05" y="275.0" width="2.7" height="1.4" fill="#F23645"/>
<line x1="422.52" y1="274.3" x2="422.52" y2="285.0" stroke="#F23645" stroke-width="0.8"/>
<rect x="421.17" y="276.4" width="2.7" height="7.8" fill="#F23645"/>
<line x1="425.65" y1="272.0" x2="425.65" y2="285.7" stroke="#089981" stroke-width="0.8"/>
<rect x="424.30" y="282.0" width="2.7" height="2.2" fill="#089981"/>
<line x1="428.77" y1="265.7" x2="428.77" y2="294.2" stroke="#F23645" stroke-width="0.8"/>
<rect x="427.42" y="270.7" width="2.7" height="13.5" fill="#F23645"/>
<line x1="431.90" y1="275.0" x2="431.90" y2="297.0" stroke="#089981" stroke-width="0.8"/>
<rect x="430.55" y="277.8" width="2.7" height="6.4" fill="#089981"/>
<line x1="435.02" y1="274.3" x2="435.02" y2="293.5" stroke="#F23645" stroke-width="0.8"/>
<rect x="433.67" y="277.8" width="2.7" height="8.6" fill="#F23645"/>
<line x1="438.15" y1="276.4" x2="438.15" y2="292.8" stroke="#F23645" stroke-width="0.8"/>
<rect x="436.80" y="280.0" width="2.7" height="6.4" fill="#F23645"/>
<line x1="441.27" y1="283.5" x2="441.27" y2="320.0" stroke="#F23645" stroke-width="0.8"/>
<rect x="439.92" y="286.4" width="2.7" height="24.2" fill="#F23645"/>
<line x1="444.40" y1="305.0" x2="444.40" y2="327.7" stroke="#F23645" stroke-width="0.8"/>
<rect x="443.05" y="310.6" width="2.7" height="13.5" fill="#F23645"/>
<line x1="447.52" y1="320.0" x2="447.52" y2="334.2" stroke="#F23645" stroke-width="0.8"/>
<rect x="446.17" y="324.1" width="2.7" height="6.3" fill="#F23645"/>
<line x1="450.65" y1="329.6" x2="450.65" y2="416.7" stroke="#F23645" stroke-width="0.8"/>
<rect x="449.30" y="330.4" width="2.7" height="77.7" fill="#F23645"/>
<line x1="453.77" y1="373.6" x2="453.77" y2="437.0" stroke="#089981" stroke-width="0.8"/>
<rect x="452.42" y="375.9" width="2.7" height="32.2" fill="#089981"/>
<line x1="456.90" y1="358.7" x2="456.90" y2="388.5" stroke="#089981" stroke-width="0.8"/>
<rect x="455.55" y="360.2" width="2.7" height="15.7" fill="#089981"/>
<line x1="460.02" y1="345.3" x2="460.02" y2="365.7" stroke="#089981" stroke-width="0.8"/>
<rect x="458.67" y="346.1" width="2.7" height="14.1" fill="#089981"/>
<line x1="463.15" y1="344.5" x2="463.15" y2="363.4" stroke="#F23645" stroke-width="0.8"/>
<rect x="461.80" y="346.1" width="2.7" height="13.4" fill="#F23645"/>
<line x1="466.27" y1="341.4" x2="466.27" y2="365.0" stroke="#089981" stroke-width="0.8"/>
<rect x="464.92" y="342.2" width="2.7" height="17.3" fill="#089981"/>
<line x1="469.40" y1="328.0" x2="469.40" y2="352.4" stroke="#089981" stroke-width="0.8"/>
<rect x="468.05" y="341.4" width="2.7" height="0.8" fill="#089981"/>
<line x1="472.52" y1="340.6" x2="472.52" y2="351.6" stroke="#F23645" stroke-width="0.8"/>
<rect x="471.17" y="341.4" width="2.7" height="9.4" fill="#F23645"/>
<line x1="475.65" y1="337.5" x2="475.65" y2="351.6" stroke="#089981" stroke-width="0.8"/>
<rect x="474.30" y="338.3" width="2.7" height="12.5" fill="#089981"/>
<line x1="478.77" y1="331.2" x2="478.77" y2="350.8" stroke="#F23645" stroke-width="0.8"/>
<rect x="477.42" y="338.3" width="2.7" height="11.7" fill="#F23645"/>
<line x1="481.90" y1="349.2" x2="481.90" y2="365.0" stroke="#F23645" stroke-width="0.8"/>
<rect x="480.55" y="350.0" width="2.7" height="14.2" fill="#F23645"/>
<line x1="485.02" y1="354.7" x2="485.02" y2="376.7" stroke="#F23645" stroke-width="0.8"/>
<rect x="483.67" y="364.2" width="2.7" height="3.9" fill="#F23645"/>
<line x1="488.15" y1="360.2" x2="488.15" y2="368.9" stroke="#089981" stroke-width="0.8"/>
<rect x="486.80" y="361.0" width="2.7" height="7.1" fill="#089981"/>
<line x1="491.27" y1="360.2" x2="491.27" y2="383.8" stroke="#F23645" stroke-width="0.8"/>
<rect x="489.92" y="361.0" width="2.7" height="10.2" fill="#F23645"/>
<line x1="494.40" y1="353.2" x2="494.40" y2="373.6" stroke="#089981" stroke-width="0.8"/>
<rect x="493.05" y="355.5" width="2.7" height="15.7" fill="#089981"/>
<line x1="497.52" y1="354.0" x2="497.52" y2="374.4" stroke="#F23645" stroke-width="0.8"/>
<rect x="496.17" y="355.5" width="2.7" height="14.9" fill="#F23645"/>
<line x1="500.65" y1="368.1" x2="500.65" y2="377.5" stroke="#089981" stroke-width="0.8"/>
<rect x="499.30" y="368.9" width="2.7" height="1.5" fill="#089981"/>
<line x1="503.77" y1="368.0" x2="503.77" y2="427.6" stroke="#F23645" stroke-width="0.8"/>
<rect x="502.42" y="369.7" width="2.7" height="56.3" fill="#F23645"/>
<line x1="506.90" y1="425.0" x2="506.90" y2="489.0" stroke="#F23645" stroke-width="0.8"/>
<rect x="505.55" y="426.0" width="2.7" height="61.9" fill="#F23645"/>
<line x1="510.02" y1="484.3" x2="510.02" y2="583.0" stroke="#F23645" stroke-width="0.8"/>
<rect x="508.67" y="487.9" width="2.7" height="48.5" fill="#F23645"/>
<line x1="513.15" y1="494.0" x2="513.15" y2="550.0" stroke="#089981" stroke-width="0.8"/>
<rect x="511.80" y="515.7" width="2.7" height="20.7" fill="#089981"/>
<line x1="516.27" y1="502.9" x2="516.27" y2="519.3" stroke="#089981" stroke-width="0.8"/>
<rect x="514.92" y="510.0" width="2.7" height="5.7" fill="#089981"/>
<line x1="519.40" y1="485.7" x2="519.40" y2="519.3" stroke="#089981" stroke-width="0.8"/>
<rect x="518.05" y="502.1" width="2.7" height="7.9" fill="#089981"/>
<line x1="522.52" y1="457.5" x2="522.52" y2="509.0" stroke="#089981" stroke-width="0.8"/>
<rect x="521.17" y="469.3" width="2.7" height="32.8" fill="#089981"/>
<line x1="525.65" y1="458.0" x2="525.65" y2="490.4" stroke="#089981" stroke-width="0.8"/>
<rect x="524.30" y="466.9" width="2.7" height="2.4" fill="#089981"/>
<line x1="528.77" y1="461.4" x2="528.77" y2="481.0" stroke="#F23645" stroke-width="0.8"/>
<rect x="527.42" y="466.9" width="2.7" height="7.8" fill="#F23645"/>
<line x1="531.90" y1="450.4" x2="531.90" y2="475.5" stroke="#089981" stroke-width="0.8"/>
<rect x="530.55" y="471.6" width="2.7" height="3.1" fill="#089981"/>
<line x1="535.02" y1="441.8" x2="535.02" y2="480.2" stroke="#089981" stroke-width="0.8"/>
<rect x="533.67" y="450.4" width="2.7" height="21.2" fill="#089981"/>
<line x1="538.15" y1="438.6" x2="538.15" y2="455.9" stroke="#F23645" stroke-width="0.8"/>
<rect x="536.80" y="449.6" width="2.7" height="1.6" fill="#F23645"/>
<line x1="541.27" y1="421.4" x2="541.27" y2="452.0" stroke="#089981" stroke-width="0.8"/>
<rect x="539.92" y="427.6" width="2.7" height="23.4" fill="#089981"/>
<line x1="544.40" y1="423.7" x2="544.40" y2="444.9" stroke="#F23645" stroke-width="0.8"/>
<rect x="543.05" y="427.6" width="2.7" height="16.5" fill="#F23645"/>
<line x1="547.52" y1="431.6" x2="547.52" y2="450.4" stroke="#F23645" stroke-width="0.8"/>
<rect x="546.17" y="444.1" width="2.7" height="4.7" fill="#F23645"/>
<line x1="550.65" y1="431.6" x2="550.65" y2="449.6" stroke="#089981" stroke-width="0.8"/>
<rect x="549.30" y="443.3" width="2.7" height="5.5" fill="#089981"/>
<line x1="553.77" y1="423.7" x2="553.77" y2="444.9" stroke="#089981" stroke-width="0.8"/>
<rect x="552.42" y="440.2" width="2.7" height="3.1" fill="#089981"/>
<line x1="556.90" y1="435.5" x2="556.90" y2="447.3" stroke="#F23645" stroke-width="0.8"/>
<rect x="555.55" y="440.2" width="2.7" height="6.3" fill="#F23645"/>
<line x1="560.02" y1="441.0" x2="560.02" y2="447.3" stroke="#089981" stroke-width="0.8"/>
<rect x="558.67" y="441.8" width="2.7" height="4.7" fill="#089981"/>
<line x1="563.15" y1="415.9" x2="563.15" y2="459.8" stroke="#089981" stroke-width="0.8"/>
<rect x="561.80" y="430.8" width="2.7" height="11.0" fill="#089981"/>
<line x1="566.27" y1="400.2" x2="566.27" y2="431.6" stroke="#089981" stroke-width="0.8"/>
<rect x="564.92" y="407.3" width="2.7" height="23.5" fill="#089981"/>
<line x1="569.40" y1="404.9" x2="569.40" y2="444.1" stroke="#F23645" stroke-width="0.8"/>
<rect x="568.05" y="407.3" width="2.7" height="18.0" fill="#F23645"/>
<line x1="572.52" y1="425.3" x2="572.52" y2="444.1" stroke="#F23645" stroke-width="0.8"/>
<rect x="571.17" y="425.3" width="2.7" height="14.9" fill="#F23645"/>
<line x1="575.65" y1="437.1" x2="575.65" y2="471.6" stroke="#F23645" stroke-width="0.8"/>
<rect x="574.30" y="440.2" width="2.7" height="18.8" fill="#F23645"/>
<line x1="578.77" y1="429.2" x2="578.77" y2="459.8" stroke="#089981" stroke-width="0.8"/>
<rect x="577.42" y="430.0" width="2.7" height="29.0" fill="#089981"/>
<line x1="581.90" y1="419.8" x2="581.90" y2="438.6" stroke="#089981" stroke-width="0.8"/>
<rect x="580.55" y="426.9" width="2.7" height="3.1" fill="#089981"/>
<line x1="585.02" y1="420.6" x2="585.02" y2="439.4" stroke="#089981" stroke-width="0.8"/>
<rect x="583.67" y="424.5" width="2.7" height="2.4" fill="#089981"/>
<line x1="588.15" y1="418.2" x2="588.15" y2="429.2" stroke="#089981" stroke-width="0.8"/>
<rect x="586.80" y="423.7" width="2.7" height="1.6" fill="#089981"/>
<line x1="591.27" y1="401.0" x2="591.27" y2="426.9" stroke="#089981" stroke-width="0.8"/>
<rect x="589.92" y="405.7" width="2.7" height="18.0" fill="#089981"/>
<circle cx="592" cy="627" r="7.1" fill="#fff" stroke="#A43BC6" stroke-width="1.7"/>
<polyline points="594.2,623.2 589.5,627.3 594.5,627.1 589.9,631" fill="none" stroke="#A43BC6" stroke-width="1.5" stroke-linejoin="miter" stroke-miterlimit="3"/>
<circle cx="911" cy="626.9" r="7.4" fill="#fff" stroke="#F7525F" stroke-width="1.6"/>
<clipPath id="fl"><circle cx="911" cy="626.9" r="5.9"/></clipPath>
<g clip-path="url(#fl)"><rect x="904" y="620" width="14" height="14" fill="#fff"/><rect x="904" y="621.6" width="14" height="1.7" fill="#F23645"/><rect x="904" y="625.6" width="14" height="2.1" fill="#F23645"/><rect x="904" y="630" width="14" height="2" fill="#F23645"/><rect x="904" y="620" width="8.7" height="8.2" fill="#2F7EF2"/><circle cx="906.3" cy="622.3" r="0.45" fill="#cfe0ff"/><circle cx="906.3" cy="624.3" r="0.45" fill="#cfe0ff"/><circle cx="906.3" cy="626.3" r="0.45" fill="#cfe0ff"/><circle cx="908.4" cy="622.3" r="0.45" fill="#cfe0ff"/><circle cx="908.4" cy="624.3" r="0.45" fill="#cfe0ff"/><circle cx="908.4" cy="626.3" r="0.45" fill="#cfe0ff"/><circle cx="910.5" cy="622.3" r="0.45" fill="#cfe0ff"/><circle cx="910.5" cy="624.3" r="0.45" fill="#cfe0ff"/><circle cx="910.5" cy="626.3" r="0.45" fill="#cfe0ff"/></g>
</svg>
<text x="745.1" y="184.2" font-size="9" fill="#F23645" text-anchor="start" font-weight="normal" textLength="59.8" lengthAdjust="spacingAndGlyphs">1.1 (5,033.271)</text>
<text x="745.1" y="219.4" font-size="9" fill="#50535E" text-anchor="start" font-weight="normal" textLength="52" lengthAdjust="spacingAndGlyphs">1 (5,017.442)</text>
<text x="745.1" y="295.0" font-size="9" fill="#4CAF50" text-anchor="start" font-weight="normal" textLength="70" lengthAdjust="spacingAndGlyphs">0.786 (4,983.569)</text>
<text x="745.1" y="354.8" font-size="9" fill="#FF9800" text-anchor="start" font-weight="normal" textLength="70" lengthAdjust="spacingAndGlyphs">0.618 (4,956.977)</text>
<text x="745.1" y="397.0" font-size="9" fill="#FF9800" text-anchor="start" font-weight="normal" textLength="61" lengthAdjust="spacingAndGlyphs">0.5 (4,938.299)</text>
<text x="745.1" y="577.4" font-size="9" fill="#50535E" text-anchor="start" font-weight="normal" textLength="52" lengthAdjust="spacingAndGlyphs">0 (4,859.156)</text>
<text x="13.3" y="33.8" font-size="8.8" fill="#131722" text-anchor="start" font-weight="normal" textLength="143.6" lengthAdjust="spacingAndGlyphs">Gold Spot / U.S. Dollar · 15 · OANDA</text>
<text x="162.8" y="33.8" font-size="8.8" fill="#131722" text-anchor="start" font-weight="normal" textLength="5.6" lengthAdjust="spacingAndGlyphs">O</text>
<text x="168.7" y="33.8" font-size="8.8" fill="#089981" text-anchor="start" font-weight="normal" textLength="38.3" lengthAdjust="spacingAndGlyphs">4,929.540</text>
<text x="213.2" y="33.8" font-size="8.8" fill="#131722" text-anchor="start" font-weight="normal" textLength="4.9" lengthAdjust="spacingAndGlyphs">H</text>
<text x="218.7" y="33.8" font-size="8.8" fill="#089981" text-anchor="start" font-weight="normal" textLength="38.4" lengthAdjust="spacingAndGlyphs">4,939.070</text>
<text x="263.2" y="33.8" font-size="8.8" fill="#131722" text-anchor="start" font-weight="normal" textLength="4.2" lengthAdjust="spacingAndGlyphs">L</text>
<text x="267.8" y="33.8" font-size="8.8" fill="#089981" text-anchor="start" font-weight="normal" textLength="37.9" lengthAdjust="spacingAndGlyphs">4,928.440</text>
<text x="311.3" y="33.8" font-size="8.8" fill="#131722" text-anchor="start" font-weight="normal" textLength="5.2" lengthAdjust="spacingAndGlyphs">C</text>
<text x="316.7" y="33.8" font-size="8.8" fill="#089981" text-anchor="start" font-weight="normal" textLength="38.2" lengthAdjust="spacingAndGlyphs">4,937.045</text>
<text x="361.6" y="33.8" font-size="8.8" fill="#089981" text-anchor="start" font-weight="normal" textLength="61.4" lengthAdjust="spacingAndGlyphs">+7.645 (+0.16%)</text>
<text x="429" y="33.8" font-size="8.8" fill="#131722" text-anchor="start" font-weight="normal" textLength="13.4" lengthAdjust="spacingAndGlyphs">Vol</text>
<text x="442.6" y="33.8" font-size="8.8" fill="#089981" text-anchor="start" font-weight="normal" textLength="21.2" lengthAdjust="spacingAndGlyphs">7.24K</text>
<text x="970.8" y="67.6" font-size="9.7" fill="#2E313B" text-anchor="start" font-weight="normal" textLength="38.5" lengthAdjust="spacingAndGlyphs">5,090.000</text>
<text x="970.8" y="111.6" font-size="9.7" fill="#2E313B" text-anchor="start" font-weight="normal" textLength="38.5" lengthAdjust="spacingAndGlyphs">5,070.000</text>
<text x="970.8" y="133.7" font-size="9.7" fill="#2E313B" text-anchor="start" font-weight="normal" textLength="38.5" lengthAdjust="spacingAndGlyphs">5,060.000</text>
<text x="970.8" y="155.7" font-size="9.7" fill="#2E313B" text-anchor="start" font-weight="normal" textLength="38.5" lengthAdjust="spacingAndGlyphs">5,050.000</text>
<text x="970.8" y="177.9" font-size="9.7" fill="#2E313B" text-anchor="start" font-weight="normal" textLength="38.5" lengthAdjust="spacingAndGlyphs">5,040.000</text>
<text x="970.8" y="200.1" font-size="9.7" fill="#2E313B" text-anchor="start" font-weight="normal" textLength="38.5" lengthAdjust="spacingAndGlyphs">5,030.000</text>
<text x="970.8" y="222.3" font-size="9.7" fill="#2E313B" text-anchor="start" font-weight="normal" textLength="38.5" lengthAdjust="spacingAndGlyphs">5,020.000</text>
<text x="970.8" y="244.6" font-size="9.7" fill="#2E313B" text-anchor="start" font-weight="normal" textLength="38.5" lengthAdjust="spacingAndGlyphs">5,010.000</text>
<text x="970.8" y="266.9" font-size="9.7" fill="#2E313B" text-anchor="start" font-weight="normal" textLength="38.5" lengthAdjust="spacingAndGlyphs">5,000.000</text>
<text x="970.8" y="289.2" font-size="9.7" fill="#2E313B" text-anchor="start" font-weight="normal" textLength="38.5" lengthAdjust="spacingAndGlyphs">4,990.000</text>
<text x="970.8" y="311.6" font-size="9.7" fill="#2E313B" text-anchor="start" font-weight="normal" textLength="38.5" lengthAdjust="spacingAndGlyphs">4,980.000</text>
<text x="970.8" y="334.1" font-size="9.7" fill="#2E313B" text-anchor="start" font-weight="normal" textLength="38.5" lengthAdjust="spacingAndGlyphs">4,970.000</text>
<text x="970.8" y="356.6" font-size="9.7" fill="#2E313B" text-anchor="start" font-weight="normal" textLength="38.5" lengthAdjust="spacingAndGlyphs">4,960.000</text>
<text x="970.8" y="401.7" font-size="9.7" fill="#2E313B" text-anchor="start" font-weight="normal" textLength="38.5" lengthAdjust="spacingAndGlyphs">4,940.000</text>
<text x="970.8" y="456.1" font-size="9.7" fill="#2E313B" text-anchor="start" font-weight="normal" textLength="38.5" lengthAdjust="spacingAndGlyphs">4,916.000</text>
<text x="970.8" y="483.4" font-size="9.7" fill="#2E313B" text-anchor="start" font-weight="normal" textLength="38.5" lengthAdjust="spacingAndGlyphs">4,904.000</text>
<text x="970.8" y="506.2" font-size="9.7" fill="#2E313B" text-anchor="start" font-weight="normal" textLength="38.5" lengthAdjust="spacingAndGlyphs">4,894.000</text>
<text x="970.8" y="529.1" font-size="9.7" fill="#2E313B" text-anchor="start" font-weight="normal" textLength="38.5" lengthAdjust="spacingAndGlyphs">4,884.000</text>
<text x="970.8" y="551.9" font-size="9.7" fill="#2E313B" text-anchor="start" font-weight="normal" textLength="38.5" lengthAdjust="spacingAndGlyphs">4,874.000</text>
<text x="970.8" y="574.9" font-size="9.7" fill="#2E313B" text-anchor="start" font-weight="normal" textLength="38.5" lengthAdjust="spacingAndGlyphs">4,864.000</text>
<text x="970.8" y="597.9" font-size="9.7" fill="#2E313B" text-anchor="start" font-weight="normal" textLength="38.5" lengthAdjust="spacingAndGlyphs">4,854.000</text>
<text x="970.8" y="620.9" font-size="9.7" fill="#2E313B" text-anchor="start" font-weight="normal" textLength="38.5" lengthAdjust="spacingAndGlyphs">4,844.000</text>
<rect x="967" y="22.5" width="46.5" height="19" rx="2.5" fill="#fff" stroke="#EEF0F4" stroke-width="1"/>
<text x="973.5" y="35.3" font-size="8.8" fill="#131722" text-anchor="start" font-weight="normal" textLength="15.5" lengthAdjust="spacingAndGlyphs">USD</text>
<rect x="964.5" y="350.8" width="48.5" height="12" rx="1.5" fill="#2962FF"/>
<text x="970.5" y="360.1" font-size="9" fill="#fff" text-anchor="start" font-weight="normal" textLength="38.5" lengthAdjust="spacingAndGlyphs">4,958.722</text>
<rect x="964.5" y="370.7" width="48.5" height="12.6" rx="1.5" fill="#F7525F"/>
<text x="970.5" y="380.0" font-size="9" fill="#fff" text-anchor="start" font-weight="normal" textLength="38.5" lengthAdjust="spacingAndGlyphs">4,949.769</text>
<rect x="964.5" y="400.2" width="48.5" height="21.7" rx="1.5" fill="#089981"/>
<text x="970.5" y="409.5" font-size="9" fill="#fff" text-anchor="start" font-weight="normal" textLength="38.5" lengthAdjust="spacingAndGlyphs">4,937.045</text>
<text x="970.5" y="419.5" font-size="9.5" fill="#fff" fill-opacity="0.75" textLength="21" lengthAdjust="spacingAndGlyphs">02:39</text>
<rect x="964.5" y="421.9" width="48.5" height="12.6" rx="1.5" fill="#66EE22"/>
<text x="970.5" y="431.2" font-size="9" fill="#131722" text-anchor="start" font-weight="normal" textLength="38.5" lengthAdjust="spacingAndGlyphs">4,927.914</text>
<rect x="964.5" y="434.5" width="48.5" height="12.5" rx="1.5" fill="#FF9800"/>
<text x="970.5" y="443.8" font-size="9" fill="#131722" text-anchor="start" font-weight="normal" textLength="38.5" lengthAdjust="spacingAndGlyphs">4,925.970</text>
<rect x="964.5" y="479.3" width="48.5" height="12.3" rx="1.5" fill="#4CAF50"/>
<text x="970.5" y="488.6" font-size="9" fill="#fff" text-anchor="start" font-weight="normal" textLength="38.5" lengthAdjust="spacingAndGlyphs">4,901.957</text>
<rect x="926.5" y="399.8" width="37" height="11.4" rx="1.5" fill="#089981"/>
<text x="929.5" y="408.8" font-size="8.8" fill="#fff" text-anchor="start" font-weight="normal" textLength="31" lengthAdjust="spacingAndGlyphs">XAUUSD</text>
<text x="22.5" y="650.2" font-size="9.6" fill="#131722" text-anchor="middle" font-weight="normal" textLength="21.5" lengthAdjust="spacingAndGlyphs">12:00</text>
<text x="97.5" y="650.2" font-size="9.6" fill="#131722" text-anchor="middle" font-weight="normal" textLength="21.5" lengthAdjust="spacingAndGlyphs">18:00</text>
<text x="172.5" y="650.2" font-size="9.6" fill="#131722" text-anchor="middle" font-weight="bold" textLength="9" lengthAdjust="spacingAndGlyphs">16</text>
<text x="235" y="650.2" font-size="9.6" fill="#131722" text-anchor="middle" font-weight="normal" textLength="21.5" lengthAdjust="spacingAndGlyphs">06:00</text>
<text x="310" y="650.2" font-size="9.6" fill="#131722" text-anchor="middle" font-weight="normal" textLength="21.5" lengthAdjust="spacingAndGlyphs">12:00</text>
<text x="385.3" y="650.2" font-size="9.6" fill="#131722" text-anchor="middle" font-weight="normal" textLength="21.5" lengthAdjust="spacingAndGlyphs">18:00</text>
<text x="429" y="650.2" font-size="9.6" fill="#131722" text-anchor="middle" font-weight="normal" textLength="8" lengthAdjust="spacingAndGlyphs">17</text>
<text x="491.6" y="650.2" font-size="9.6" fill="#131722" text-anchor="middle" font-weight="normal" textLength="21.5" lengthAdjust="spacingAndGlyphs">06:00</text>
<text x="566.8" y="650.2" font-size="9.6" fill="#131722" text-anchor="middle" font-weight="normal" textLength="21.5" lengthAdjust="spacingAndGlyphs">12:00</text>
<text x="641.5" y="650.2" font-size="9.6" fill="#131722" text-anchor="middle" font-weight="normal" textLength="21.5" lengthAdjust="spacingAndGlyphs">18:00</text>
<text x="716.9" y="650.2" font-size="9.6" fill="#131722" text-anchor="middle" font-weight="normal" textLength="8" lengthAdjust="spacingAndGlyphs">18</text>
<text x="792" y="650.2" font-size="9.6" fill="#131722" text-anchor="middle" font-weight="normal" textLength="21.5" lengthAdjust="spacingAndGlyphs">06:00</text>
<text x="867.4" y="650.2" font-size="9.6" fill="#131722" text-anchor="middle" font-weight="normal" textLength="21.5" lengthAdjust="spacingAndGlyphs">12:00</text>
<text x="942.5" y="650.2" font-size="9.6" fill="#131722" text-anchor="middle" font-weight="normal" textLength="21.5" lengthAdjust="spacingAndGlyphs">18:00</text>
<path d="M8.9,673.1 H17.5 V683.8 H13 V677.2 H8.9 Z" fill="#131722"/>
<circle cx="21.2" cy="675.2" r="1.95" fill="#131722"/>
<path d="M25.8,673.1 H31 L26.4,683.8 H21.1 Z" fill="#131722"/>
<text x="36.2" y="683.6" font-size="14.6" fill="#131722" stroke="#131722" stroke-width="0.55" textLength="88" lengthAdjust="spacingAndGlyphs">TradingView</text>
</svg>
</body></html>
